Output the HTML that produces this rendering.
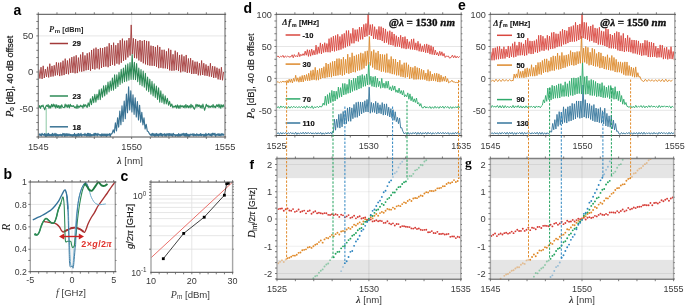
<!DOCTYPE html>
<html><head><meta charset="utf-8"><style>
html,body{margin:0;padding:0;background:#fff;width:685px;height:305px;overflow:hidden;}
svg{will-change:transform;display:block;font-family:"Liberation Sans",sans-serif;}
</style></head><body>
<svg xmlns="http://www.w3.org/2000/svg" width="685" height="305" viewBox="0 0 685 305"><line x1="38.3" y1="35.9" x2="225" y2="35.9" stroke="#e3e3e3" stroke-width="0.9"/>
<line x1="38.3" y1="72" x2="225" y2="72" stroke="#e3e3e3" stroke-width="0.9"/>
<line x1="38.3" y1="108.1" x2="225" y2="108.1" stroke="#e3e3e3" stroke-width="0.9"/>
<line x1="131.65" y1="14.3" x2="131.65" y2="137" stroke="#e3e3e3" stroke-width="0.9"/>
<line x1="46.2" y1="108.1" x2="46.2" y2="137" stroke="#7fc29a" stroke-width="0.9"/>
<path d="M38.8 135.33 L39.45 133.96 L40.1 135.52 L40.75 134.05 L41.4 135.88 L42.05 133.29 L42.7 135.02 L43.35 134.37 L44 135.36 L44.65 133.53 L45.3 136.39 L45.95 133.86 L46.6 136.17 L47.25 133.87 L47.9 135.89 L48.55 133.41 L49.2 135.89 L49.85 134.42 L50.5 135.73 L51.15 134.24 L51.8 135.94 L52.45 133.29 L53.1 136.06 L53.75 134.03 L54.4 135.42 L55.05 133.24 L55.7 136.21 L56.35 133.86 L57 136.01 L57.65 134.43 L58.3 136 L58.95 134.49 L59.6 135.55 L60.25 134.32 L60.9 135.62 L61.55 134.51 L62.2 136.23 L62.85 133.34 L63.5 135.19 L64.15 133.5 L64.8 136.35 L65.45 133.81 L66.1 135.88 L66.75 133.62 L67.4 135.71 L68.05 133.74 L68.7 135.49 L69.35 134.02 L70 135.82 L70.65 134.47 L71.3 135.95 L71.95 134.5 L72.6 136.2 L73.25 134.59 L73.9 135.94 L74.55 133.43 L75.2 136.2 L75.85 134.55 L76.5 136.27 L77.15 134 L77.8 136 L78.45 133.5 L79.1 136.16 L79.75 134 L80.4 135.4 L81.05 133.29 L81.7 136.2 L82.35 134.59 L83 135.12 L83.65 134.32 L84.3 135.57 L84.95 133.41 L85.6 135.41 L86.25 134.28 L86.9 136.22 L87.55 133.26 L88.2 135.86 L88.85 133.26 L89.5 136.01 L90.15 133.66 L90.8 136.23 L91.45 134.57 L92.1 135.71 L92.75 134.6 L93.4 135.43 L94.05 133.31 L94.7 135.84 L95.35 133.24 L96 135.28 L96.65 133.77 L97.3 135.85 L97.95 133.42 L98.6 135.06 L99.25 134.41 L99.9 135.44 L100.55 134.54 L101.2 136.26 L101.85 133.73 L102.5 135.64 L103.15 133.93 L103.8 135.9 L104.45 134.03 L105.1 135.78 L105.75 134.07 L106.4 136.32 L107.05 133.91 L107.7 135.6 L108.35 134.21 L109 135.33 L109.65 133.62 L110.3 136.37 L110.95 133.93 L111 134.27 L112.1 133.45 L113.2 129.82 L114.3 132.82 L115.4 122.74 L116.5 131 L117.6 117.8 L118.7 127.08 L119.8 111 L120.9 124.69 L122 105.94 L123.1 121.42 L124.2 100.96 L125.3 118.71 L126.4 94.14 L127.5 112.74 L128.6 86.9 L129.7 109.99 L130.8 90.78 L131.9 111.86 L133 94.78 L134.1 114.33 L135.2 97.86 L136.3 116.88 L137.4 101.65 L138.5 119.9 L139.6 105.22 L140.7 122.28 L141.8 112.36 L142.9 124.8 L144 117.91 L145.1 129.01 L146.2 124.33 L147.3 131.05 L148.4 131.65 L149.5 133.93 L150.65 135.26 L151.3 133.81 L151.95 135.98 L152.6 133.34 L153.25 135.45 L153.9 133.67 L154.55 136.17 L155.2 133.81 L155.85 136.2 L156.5 133.44 L157.15 135.47 L157.8 134.11 L158.45 136.24 L159.1 133.83 L159.75 135.32 L160.4 133.37 L161.05 135.74 L161.7 133.47 L162.35 136.13 L163 134.37 L163.65 135.26 L164.3 133.59 L164.95 136.13 L165.6 134.1 L166.25 136.13 L166.9 133.68 L167.55 135.18 L168.2 133.61 L168.85 136.11 L169.5 133.58 L170.15 135.48 L170.8 133.78 L171.45 135.59 L172.1 133.77 L172.75 136.29 L173.4 133.42 L174.05 135.01 L174.7 134.52 L175.35 136.23 L176 134.58 L176.65 135.61 L177.3 134.53 L177.95 136.3 L178.6 133.51 L179.25 136.04 L179.9 134.37 L180.55 135.93 L181.2 133.93 L181.85 135.4 L182.5 133.68 L183.15 135.32 L183.8 133.3 L184.45 135.82 L185.1 133.6 L185.75 136.13 L186.4 133.26 L187.05 136.27 L187.7 134.17 L188.35 136.29 L189 134.46 L189.65 136.26 L190.3 134.01 L190.95 135.02 L191.6 134.24 L192.25 135.24 L192.9 133.62 L193.55 135.93 L194.2 133.93 L194.85 135.58 L195.5 134.51 L196.15 135.86 L196.8 133.68 L197.45 135.35 L198.1 134.41 L198.75 135.67 L199.4 134.3 L200.05 135.49 L200.7 133.48 L201.35 135.75 L202 134.34 L202.65 135.24 L203.3 134.31 L203.95 136.29 L204.6 134.33 L205.25 136.15 L205.9 133.21 L206.55 135.88 L207.2 134.41 L207.85 135.07 L208.5 133.58 L209.15 135.38 L209.8 133.94 L210.45 135.59 L211.1 133.86 L211.75 136.09 L212.4 133.2 L213.05 135.08 L213.7 133.38 L214.35 135.17 L215 133.3 L215.65 136.36 L216.3 134.4 L216.95 135.12 L217.6 133.9 L218.25 135.44 L218.9 133.64 L219.55 135.49 L220.2 134.11 L220.85 135.82 L221.5 133.71 L222.15 135.27 L222.8 133.66 L223.45 135.17 L224.1 133.98" fill="none" stroke="#3a7394" stroke-width="1.15" stroke-linejoin="round"/>
<path d="M38.8 107.75 L39.65 105.58 L40.5 108.38 L41.35 105.58 L42.2 106.56 L43.05 105.03 L43.9 107.8 L44.75 109.78 L45.6 106.99 L46.45 105.19 L47.3 106.53 L48.15 104.53 L49 108.33 L49.85 105.63 L50.7 108.09 L51.55 104.38 L52.4 106.75 L53.25 104.1 L54.1 106.92 L54.95 104.53 L55.8 108.24 L56.65 104.68 L57.5 107.58 L58.35 105.46 L59.2 108.38 L60.05 105.48 L60.9 108.29 L61.75 104.7 L62.6 106.83 L63.45 107.6 L64.3 107.71 L65.15 104.11 L66 107.18 L66.85 104.72 L67.7 107.46 L68.55 104.73 L69.4 107.91 L70.25 104.21 L71.1 106.55 L71.95 105.6 L72.8 106.54 L73.65 105.68 L74.5 107.66 L75.35 106.84 L76.2 108.41 L77.05 104.49 L77.9 108.36 L78.75 105.98 L79.6 107.21 L80.45 105.15 L81.3 106.72 L82.15 105.6 L83 108.22 L83.85 104.17 L84.7 106.68 L85.55 104.78 L86 105.1 L87.1 107.56 L88.2 102.84 L89.3 106.51 L90.4 98.89 L91.5 104.66 L92.6 96.41 L93.7 102.74 L94.8 94.2 L95.9 102.19 L97 94.18 L98.1 99.81 L99.2 89.66 L100.3 99.6 L101.4 88.73 L102.5 97.13 L103.6 85.85 L104.7 95.9 L105.8 85.18 L106.9 94.14 L108 82.03 L109.1 91.97 L110.2 81.12 L111.3 90.4 L112.4 77.92 L113.5 90.15 L114.6 74.87 L115.7 88.45 L116.8 74.78 L117.9 86.75 L119 72.23 L120.1 84.38 L121.2 69.21 L122.3 82.91 L123.4 68.09 L124.5 81.61 L125.6 64.97 L126.7 81.21 L127.8 63.83 L128.9 80.26 L130 62.63 L131.1 79.48 L132.2 54.5 L133.3 79.47 L134.4 62.23 L135.5 79.8 L136.6 63.56 L137.7 81.73 L138.8 68 L139.9 84.65 L141 69.43 L142.1 85.89 L143.2 71.04 L144.3 87.21 L145.4 73.2 L146.5 90.3 L147.6 77.02 L148.7 91.61 L149.8 79.15 L150.9 94.25 L152 81.26 L153.1 96.05 L154.2 83.75 L155.3 97.55 L156.4 85.95 L157.5 99.4 L158.6 87.73 L159.7 102.16 L160.8 90.7 L161.9 102.48 L163 94.01 L164.1 104 L165.2 95.77 L166.3 103.92 L167.4 98.35 L168.5 105.24 L169.6 101.34 L170.7 106.53 L171.8 103.94 L172.9 107.76 L174 106 L174.85 107.2 L175.7 105.39 L176.55 108.16 L177.4 104.8 L178.25 108.24 L179.1 105.48 L179.95 108.41 L180.8 105.14 L181.65 106.83 L182.5 105.77 L183.35 107.45 L184.2 105.48 L185.05 107.96 L185.9 104.44 L186.75 107.66 L187.6 105.43 L188.45 107.75 L189.3 105.65 L190.15 107.94 L191 104.16 L191.85 107.38 L192.7 105.4 L193.55 107.87 L194.4 109.25 L195.25 106.95 L196.1 104.21 L196.95 107.13 L197.8 104.46 L198.65 106.57 L199.5 105.03 L200.35 107.72 L201.2 105.28 L202.05 108.31 L202.9 104.1 L203.75 107.06 L204.6 110.25 L205.45 107.25 L206.3 104.17 L207.15 106.69 L208 105.19 L208.85 107.66 L209.7 106.02 L210.55 107.34 L211.4 105.73 L212.25 107.24 L213.1 104.38 L213.95 107.63 L214.8 106.01 L215.65 107.72 L216.5 104.8 L217.35 106.5 L218.2 104.32 L219.05 107.73 L219.9 104.38 L220.75 108.28 L221.6 104.85 L222.45 106.95 L223.3 104.68 L224.15 107.26" fill="none" stroke="#2e8b57" stroke-width="1.05" stroke-linejoin="round"/>
<path d="M38.8 69.41 L39.9 78.53 L41 67.19 L42.1 78.95 L43.2 65.84 L44.3 78 L45.4 69.09 L46.5 76.95 L47.6 66.78 L48.7 77.44 L49.8 63.71 L50.9 76.69 L52 65.93 L53.1 76.44 L54.2 65.27 L55.3 75.6 L56.4 62.32 L57.5 75.15 L58.6 62.76 L59.7 76.09 L60.8 62.38 L61.9 75.48 L63 60.69 L64.1 75.06 L65.2 58.66 L66.3 73.97 L67.4 60.48 L68.5 74.29 L69.6 58.58 L70.7 72.9 L71.8 57.12 L72.9 72.73 L74 56.43 L75.1 73.32 L76.2 55.3 L77.3 73.07 L78.4 57.6 L79.5 71.37 L80.6 54.59 L81.7 71.69 L82.8 52.23 L83.9 71.2 L85 55.44 L86.1 70.31 L87.2 53.29 L88.3 69.94 L89.4 52.44 L90.5 70.79 L91.6 49.99 L92.7 68.99 L93.8 48.7 L94.9 69.46 L96 47.64 L97.1 68.34 L98.2 49.03 L99.3 69.3 L100.4 47.93 L101.5 67.96 L102.6 48.15 L103.7 66.92 L104.8 47.13 L105.9 66.5 L107 46.5 L108.1 67.21 L109.2 43.24 L110.3 66.01 L111.4 44.97 L112.5 64.81 L113.6 42.68 L114.7 65.62 L115.8 45.21 L116.9 63.67 L118 43.13 L119.1 64.45 L120.2 40.26 L121.3 62.78 L122.4 38.63 L123.5 60.88 L124.6 40.71 L125.7 59.73 L126.8 40.4 L127.9 57.41 L129 38.06 L130.1 55.58 L131.2 24.9 L132.3 54.06 L133.4 38.31 L134.5 58.06 L135.6 39.12 L136.7 58.4 L137.8 40.92 L138.9 60.41 L140 40.05 L141.1 61.74 L142.2 40.89 L143.3 63.29 L144.4 40.07 L145.5 64.33 L146.6 40.92 L147.7 65.13 L148.8 41.35 L149.9 65.67 L151 45.66 L152.1 65.77 L153.2 46 L154.3 65.92 L155.4 46.91 L156.5 66.76 L157.6 45.41 L158.7 68.17 L159.8 46.96 L160.9 67.77 L162 49.81 L163.1 68.31 L164.2 49.73 L165.3 68.38 L166.4 51.31 L167.5 68.9 L168.6 48.52 L169.7 70.43 L170.8 49.86 L171.9 70.77 L173 54.3 L174.1 70.61 L175.2 50.7 L176.3 70.12 L177.4 52.37 L178.5 71.03 L179.6 54.97 L180.7 72.34 L181.8 54.59 L182.9 71.41 L184 56.31 L185.1 71.82 L186.2 54.96 L187.3 72.9 L188.4 58.48 L189.5 72.53 L190.6 58.17 L191.7 73.97 L192.8 60.36 L193.9 73.87 L195 61.69 L196.1 73.95 L197.2 61.71 L198.3 75.33 L199.4 63.23 L200.5 75.3 L201.6 60.5 L202.7 75 L203.8 63.22 L204.9 75.62 L206 64.46 L207.1 75.89 L208.2 65.92 L209.3 76.53 L210.4 63.25 L211.5 76.87 L212.6 66.03 L213.7 77.9 L214.8 66.51 L215.9 77.7 L217 67.71 L218.1 79.35 L219.2 68.74 L220.3 79.76 L221.4 67.24 L222.5 80.26 L223.6 71.89" fill="none" stroke="#a33a3a" stroke-width="0.9" stroke-linejoin="round"/>
<line x1="38.3" y1="14.3" x2="38.3" y2="137" stroke="#7a7a7a" stroke-width="1.2"/>
<line x1="225" y1="14.3" x2="225" y2="137" stroke="#7a7a7a" stroke-width="1.2"/>
<line x1="37.6" y1="14.3" x2="225.7" y2="14.3" stroke="#4d4d4d" stroke-width="1"/>
<line x1="37.6" y1="137" x2="225.7" y2="137" stroke="#4d4d4d" stroke-width="1"/>
<line x1="38.3" y1="12.3" x2="38.3" y2="14.3" stroke="#5a5a5a" stroke-width="0.8"/>
<line x1="38.3" y1="137" x2="38.3" y2="139" stroke="#5a5a5a" stroke-width="0.8"/>
<line x1="56.97" y1="12.3" x2="56.97" y2="14.3" stroke="#5a5a5a" stroke-width="0.8"/>
<line x1="56.97" y1="137" x2="56.97" y2="139" stroke="#5a5a5a" stroke-width="0.8"/>
<line x1="75.64" y1="12.3" x2="75.64" y2="14.3" stroke="#5a5a5a" stroke-width="0.8"/>
<line x1="75.64" y1="137" x2="75.64" y2="139" stroke="#5a5a5a" stroke-width="0.8"/>
<line x1="94.31" y1="12.3" x2="94.31" y2="14.3" stroke="#5a5a5a" stroke-width="0.8"/>
<line x1="94.31" y1="137" x2="94.31" y2="139" stroke="#5a5a5a" stroke-width="0.8"/>
<line x1="112.98" y1="12.3" x2="112.98" y2="14.3" stroke="#5a5a5a" stroke-width="0.8"/>
<line x1="112.98" y1="137" x2="112.98" y2="139" stroke="#5a5a5a" stroke-width="0.8"/>
<line x1="131.65" y1="12.3" x2="131.65" y2="14.3" stroke="#5a5a5a" stroke-width="0.8"/>
<line x1="131.65" y1="137" x2="131.65" y2="139" stroke="#5a5a5a" stroke-width="0.8"/>
<line x1="150.32" y1="12.3" x2="150.32" y2="14.3" stroke="#5a5a5a" stroke-width="0.8"/>
<line x1="150.32" y1="137" x2="150.32" y2="139" stroke="#5a5a5a" stroke-width="0.8"/>
<line x1="168.99" y1="12.3" x2="168.99" y2="14.3" stroke="#5a5a5a" stroke-width="0.8"/>
<line x1="168.99" y1="137" x2="168.99" y2="139" stroke="#5a5a5a" stroke-width="0.8"/>
<line x1="187.66" y1="12.3" x2="187.66" y2="14.3" stroke="#5a5a5a" stroke-width="0.8"/>
<line x1="187.66" y1="137" x2="187.66" y2="139" stroke="#5a5a5a" stroke-width="0.8"/>
<line x1="206.33" y1="12.3" x2="206.33" y2="14.3" stroke="#5a5a5a" stroke-width="0.8"/>
<line x1="206.33" y1="137" x2="206.33" y2="139" stroke="#5a5a5a" stroke-width="0.8"/>
<line x1="225" y1="12.3" x2="225" y2="14.3" stroke="#5a5a5a" stroke-width="0.8"/>
<line x1="225" y1="137" x2="225" y2="139" stroke="#5a5a5a" stroke-width="0.8"/>
<line x1="36.3" y1="136.98" x2="38.3" y2="136.98" stroke="#5a5a5a" stroke-width="0.8"/>
<line x1="225" y1="136.98" x2="226.2" y2="136.98" stroke="#5a5a5a" stroke-width="0.8"/>
<line x1="36.3" y1="129.76" x2="38.3" y2="129.76" stroke="#5a5a5a" stroke-width="0.8"/>
<line x1="225" y1="129.76" x2="226.2" y2="129.76" stroke="#5a5a5a" stroke-width="0.8"/>
<line x1="36.3" y1="122.54" x2="38.3" y2="122.54" stroke="#5a5a5a" stroke-width="0.8"/>
<line x1="225" y1="122.54" x2="226.2" y2="122.54" stroke="#5a5a5a" stroke-width="0.8"/>
<line x1="36.3" y1="115.32" x2="38.3" y2="115.32" stroke="#5a5a5a" stroke-width="0.8"/>
<line x1="225" y1="115.32" x2="226.2" y2="115.32" stroke="#5a5a5a" stroke-width="0.8"/>
<line x1="36.3" y1="108.1" x2="38.3" y2="108.1" stroke="#5a5a5a" stroke-width="0.8"/>
<line x1="225" y1="108.1" x2="226.2" y2="108.1" stroke="#5a5a5a" stroke-width="0.8"/>
<line x1="36.3" y1="100.88" x2="38.3" y2="100.88" stroke="#5a5a5a" stroke-width="0.8"/>
<line x1="225" y1="100.88" x2="226.2" y2="100.88" stroke="#5a5a5a" stroke-width="0.8"/>
<line x1="36.3" y1="93.66" x2="38.3" y2="93.66" stroke="#5a5a5a" stroke-width="0.8"/>
<line x1="225" y1="93.66" x2="226.2" y2="93.66" stroke="#5a5a5a" stroke-width="0.8"/>
<line x1="36.3" y1="86.44" x2="38.3" y2="86.44" stroke="#5a5a5a" stroke-width="0.8"/>
<line x1="225" y1="86.44" x2="226.2" y2="86.44" stroke="#5a5a5a" stroke-width="0.8"/>
<line x1="36.3" y1="79.22" x2="38.3" y2="79.22" stroke="#5a5a5a" stroke-width="0.8"/>
<line x1="225" y1="79.22" x2="226.2" y2="79.22" stroke="#5a5a5a" stroke-width="0.8"/>
<line x1="36.3" y1="72" x2="38.3" y2="72" stroke="#5a5a5a" stroke-width="0.8"/>
<line x1="225" y1="72" x2="226.2" y2="72" stroke="#5a5a5a" stroke-width="0.8"/>
<line x1="36.3" y1="64.78" x2="38.3" y2="64.78" stroke="#5a5a5a" stroke-width="0.8"/>
<line x1="225" y1="64.78" x2="226.2" y2="64.78" stroke="#5a5a5a" stroke-width="0.8"/>
<line x1="36.3" y1="57.56" x2="38.3" y2="57.56" stroke="#5a5a5a" stroke-width="0.8"/>
<line x1="225" y1="57.56" x2="226.2" y2="57.56" stroke="#5a5a5a" stroke-width="0.8"/>
<line x1="36.3" y1="50.34" x2="38.3" y2="50.34" stroke="#5a5a5a" stroke-width="0.8"/>
<line x1="225" y1="50.34" x2="226.2" y2="50.34" stroke="#5a5a5a" stroke-width="0.8"/>
<line x1="36.3" y1="43.12" x2="38.3" y2="43.12" stroke="#5a5a5a" stroke-width="0.8"/>
<line x1="225" y1="43.12" x2="226.2" y2="43.12" stroke="#5a5a5a" stroke-width="0.8"/>
<line x1="36.3" y1="35.9" x2="38.3" y2="35.9" stroke="#5a5a5a" stroke-width="0.8"/>
<line x1="225" y1="35.9" x2="226.2" y2="35.9" stroke="#5a5a5a" stroke-width="0.8"/>
<line x1="36.3" y1="28.68" x2="38.3" y2="28.68" stroke="#5a5a5a" stroke-width="0.8"/>
<line x1="225" y1="28.68" x2="226.2" y2="28.68" stroke="#5a5a5a" stroke-width="0.8"/>
<line x1="36.3" y1="21.46" x2="38.3" y2="21.46" stroke="#5a5a5a" stroke-width="0.8"/>
<line x1="225" y1="21.46" x2="226.2" y2="21.46" stroke="#5a5a5a" stroke-width="0.8"/>
<line x1="36.3" y1="14.24" x2="38.3" y2="14.24" stroke="#5a5a5a" stroke-width="0.8"/>
<line x1="225" y1="14.24" x2="226.2" y2="14.24" stroke="#5a5a5a" stroke-width="0.8"/>
<text x="33.3" y="39.3" font-size="9.6" font-family="Liberation Sans" fill="#3a3a3a" text-anchor="end">50</text>
<text x="33.3" y="75.4" font-size="9.6" font-family="Liberation Sans" fill="#3a3a3a" text-anchor="end">0</text>
<text x="33.3" y="111.5" font-size="9.6" font-family="Liberation Sans" fill="#3a3a3a" text-anchor="end">-50</text>
<text x="38.3" y="150.4" font-size="9.3" font-family="Liberation Sans" fill="#3a3a3a" text-anchor="middle">1545</text>
<text x="131.65" y="150.4" font-size="9.3" font-family="Liberation Sans" fill="#3a3a3a" text-anchor="middle">1550</text>
<text x="225" y="150.4" font-size="9.3" font-family="Liberation Sans" fill="#3a3a3a" text-anchor="middle">1555</text>
<text x="130" y="164.3" font-size="9.6" font-family="Liberation Sans" fill="#3a3a3a" text-anchor="middle"><tspan font-style="italic" font-weight="bold" font-family="Liberation Serif" font-size="10.5">λ</tspan> [nm]</text>
<text x="12.9" y="76.4" font-size="9" font-family="Liberation Sans" fill="#1a1a1a" text-anchor="middle" transform="rotate(-90 12.9 76.4)" stroke="#1a1a1a" stroke-width="0.25"><tspan font-style="italic" font-family="Liberation Serif" font-size="10.5">P</tspan><tspan font-size="6.3" dy="1.5">o</tspan><tspan dy="-1.5"> [dB], 40 dB offset</tspan></text>
<text x="48.9" y="31.6" font-size="8" font-family="Liberation Sans" fill="#2a2a2a"><tspan font-family="Liberation Serif" font-style="italic" font-weight="bold" font-size="8.4">P</tspan><tspan font-size="6" dy="1.3" font-weight="bold" dx="0.6">m</tspan><tspan dy="-1.3" font-size="7.3" font-weight="bold" dx="0.3"> [dBm]</tspan></text>
<line x1="49.8" y1="43.5" x2="68" y2="43.5" stroke="#a33a3a" stroke-width="1.5"/>
<text x="72.6" y="46.2" font-size="7.5" font-family="Liberation Sans" fill="#111" font-weight="bold" stroke="#111" stroke-width="0.2">29</text>
<line x1="49.8" y1="96" x2="68" y2="96" stroke="#2e8b57" stroke-width="1.5"/>
<text x="72.6" y="98.7" font-size="7.5" font-family="Liberation Sans" fill="#111" font-weight="bold" stroke="#111" stroke-width="0.2">23</text>
<line x1="49.8" y1="126.8" x2="68" y2="126.8" stroke="#3a7394" stroke-width="1.5"/>
<text x="72.6" y="129.5" font-size="7.5" font-family="Liberation Sans" fill="#111" font-weight="bold" stroke="#111" stroke-width="0.2">18</text>
<text x="13.5" y="15" font-size="14" font-family="Liberation Sans" fill="#000" font-weight="bold">a</text>
<line x1="30.3" y1="204.42" x2="115.3" y2="204.42" stroke="#e3e3e3" stroke-width="0.9"/>
<line x1="30.3" y1="226.84" x2="115.3" y2="226.84" stroke="#e3e3e3" stroke-width="0.9"/>
<line x1="30.3" y1="249.26" x2="115.3" y2="249.26" stroke="#e3e3e3" stroke-width="0.9"/>
<line x1="72" y1="182" x2="72" y2="271.7" stroke="#e3e3e3" stroke-width="0.9"/>
<path d="M44.3 221.3 C44.43 221.38 44.53 221.67 45.1 221.8 C45.67 221.93 46.72 221.92 47.7 222.1 C48.68 222.28 49.9 222.73 51 222.9 C52.1 223.07 53.32 222.85 54.3 223.1 C55.28 223.35 56.03 223.75 56.9 224.4 C57.77 225.05 58.73 225.98 59.5 227 C60.27 228.02 60.88 229.67 61.5 230.5 C62.12 231.33 62.55 231.92 63.2 232 C63.85 232.08 64.38 231.5 65.4 231 C66.42 230.5 68.2 229.5 69.3 229 C70.4 228.5 71.08 228.23 72 228 C72.92 227.77 73.8 227.55 74.8 227.6 C75.8 227.65 76.97 227.93 78 228.3 C79.03 228.67 80.17 229.28 81 229.8 C81.83 230.32 82.4 230.98 83 231.4 C83.6 231.82 84.07 232.7 84.6 232.3 C85.13 231.9 85.63 230.38 86.2 229 C86.77 227.62 87.2 225.83 88 224 C88.8 222.17 89.9 219.93 91 218 C92.1 216.07 93.43 214.4 94.6 212.4 C95.77 210.4 96.63 208.18 98 206 C99.37 203.82 101.3 201.38 102.8 199.3 C104.3 197.22 105.5 195.65 107 193.5 C108.5 191.35 110.47 188.28 111.8 186.4 C113.13 184.52 114.47 182.9 115 182.2" fill="none" stroke="#a83232" stroke-width="1.35" stroke-linejoin="round" stroke-linecap="round"/>
<path d="M64.5 231.4 C65.3 231 68.05 229.57 69.3 229 C70.55 228.43 71.08 228.23 72 228 C72.92 227.77 73.8 227.55 74.8 227.6 C75.8 227.65 76.97 227.93 78 228.3 C79.03 228.67 80.17 229.32 81 229.8 C81.83 230.28 82.67 230.97 83 231.2" fill="none" stroke="#a83232" stroke-width="1.9" stroke-linejoin="round" stroke-linecap="round"/>
<path d="M66.2 192 C66.42 193.17 67.13 195.67 67.5 199 C67.87 202.33 68.15 206.83 68.4 212 C68.65 217.17 68.77 223.67 69 230 C69.23 236.33 69.53 244.33 69.8 250 C70.07 255.67 70.3 261.25 70.6 264 C70.9 266.75 71.23 266.25 71.6 266.5 C71.97 266.75 72.47 266.92 72.8 265.5 C73.13 264.08 73.35 261.42 73.6 258 C73.85 254.58 74.03 249.67 74.3 245 C74.57 240.33 74.83 235 75.2 230 C75.57 225 75.95 220 76.5 215 C77.05 210 77.75 204.17 78.5 200 C79.25 195.83 80.17 192.5 81 190 C81.83 187.5 82.73 186.17 83.5 185 C84.27 183.83 84.9 182.85 85.6 183 C86.3 183.15 87.1 184.73 87.7 185.9 C88.3 187.07 88.7 188.37 89.2 190 C89.7 191.63 90.15 194.12 90.7 195.7 C91.25 197.28 91.85 198.35 92.5 199.5 C93.15 200.65 93.85 201.82 94.6 202.6 C95.35 203.38 96.18 203.85 97 204.2 C97.82 204.55 98.58 204.67 99.5 204.7 C100.42 204.73 101.52 204.52 102.5 204.4 C103.48 204.28 104.92 204.07 105.4 204" fill="none" stroke="#6fa9c9" stroke-width="1" stroke-linejoin="round" stroke-linecap="round"/>
<path d="M35.2 234.3 C35.53 234.4 36.53 235.23 37.2 234.9 C37.87 234.57 38.55 233.72 39.2 232.3 C39.85 230.88 40.45 228.15 41.1 226.4 C41.75 224.65 42.3 223.12 43.1 221.8 C43.9 220.48 44.98 218.75 45.9 218.5 C46.82 218.25 47.6 219.53 48.6 220.3 C49.6 221.07 50.95 222.73 51.9 223.1 C52.85 223.47 53.58 223.37 54.3 222.5 C55.02 221.63 55.55 219.98 56.2 217.9 C56.85 215.82 57.43 212.42 58.2 210 C58.97 207.58 60.08 205.48 60.8 203.4 C61.52 201.32 62.07 198.38 62.5 197.5 C62.93 196.62 63.12 196.68 63.4 198.1 C63.68 199.52 63.97 201.63 64.2 206 C64.43 210.37 64.6 218.53 64.8 224.3 C65 230.07 64.95 237.77 65.4 240.6 C65.85 243.43 66.62 241.17 67.5 241.3 C68.38 241.43 70.03 240.83 70.7 241.4 C71.37 241.97 71.2 243.68 71.5 244.7 C71.8 245.72 72.17 247.12 72.5 247.5 C72.83 247.88 73.18 247.33 73.5 247 C73.82 246.67 74.08 247 74.4 245.5 C74.72 244 75.07 240.32 75.4 238 C75.73 235.68 76.05 234.6 76.4 231.6 C76.75 228.6 76.98 224.43 77.5 220 C78.02 215.57 78.75 209.67 79.5 205 C80.25 200.33 81.25 195.17 82 192 C82.75 188.83 83.45 187.35 84 186 C84.55 184.65 85.08 184.25 85.3 183.9" fill="none" stroke="#2e8b57" stroke-width="1.1" stroke-linejoin="round" stroke-linecap="round"/>
<path d="M35.2 234.3 C35.53 234.4 36.53 235.23 37.2 234.9 C37.87 234.57 38.55 233.72 39.2 232.3 C39.85 230.88 40.45 228.15 41.1 226.4 C41.75 224.65 42.3 223.12 43.1 221.8 C43.9 220.48 44.98 218.75 45.9 218.5 C46.82 218.25 47.6 219.53 48.6 220.3 C49.6 221.07 50.95 222.73 51.9 223.1 C52.85 223.47 53.58 223.37 54.3 222.5 C55.02 221.63 55.55 219.98 56.2 217.9 C56.85 215.82 57.43 212.42 58.2 210 C58.97 207.58 60.37 204.5 60.8 203.4" fill="none" stroke="#2e8b57" stroke-width="1.5" stroke-linejoin="round" stroke-linecap="round"/>
<circle cx="35.3" cy="234.4" r="1.2" fill="#2e8b57"/>
<path d="M84.5 184.5 C84.63 184.4 84.8 183.48 85.3 183.9 C85.8 184.32 86.85 186.02 87.5 187 C88.15 187.98 88.5 189.17 89.2 189.8 C89.9 190.43 90.98 190.93 91.7 190.8 C92.42 190.67 92.85 189.82 93.5 189 C94.15 188.18 94.77 187 95.6 185.9 C96.43 184.8 97.52 182.48 98.5 182.4 C99.48 182.32 100.52 184.82 101.5 185.4 C102.48 185.98 103.5 186.07 104.4 185.9 C105.3 185.73 106.48 184.65 106.9 184.4" fill="none" stroke="#1f7a40" stroke-width="1.9" stroke-linejoin="round" stroke-linecap="round"/>
<path d="M33.3 219.7 C33.67 219.52 34.73 219 35.5 218.6 C36.27 218.2 37.07 217.68 37.9 217.3 C38.73 216.92 39.63 216.7 40.5 216.3 C41.37 215.9 42.02 215.52 43.1 214.9 C44.18 214.28 45.68 213.42 47 212.6 C48.32 211.78 49.68 211.1 51 210 C52.32 208.9 53.58 207.55 54.9 206 C56.22 204.45 57.7 202.67 58.9 200.7 C60.1 198.73 61.18 195.95 62.1 194.2 C63.02 192.45 63.8 190.75 64.4 190.2 C65 189.65 65.27 189.8 65.7 190.9 C66.13 192 66.65 193.85 67 196.8 C67.35 199.75 67.67 206.63 67.8 208.6" fill="none" stroke="#33729a" stroke-width="1.35" stroke-linejoin="round" stroke-linecap="round"/>
<path d="M67 196.8 C67.13 198.77 67.57 203.9 67.8 208.6 C68.03 213.3 68.2 218.93 68.4 225 C68.6 231.07 68.82 238.83 69 245 C69.18 251.17 69.3 258.37 69.5 262 C69.7 265.63 69.73 266.13 70.2 266.8 C70.67 267.47 71.82 265.77 72.3 266 C72.78 266.23 72.83 268.75 73.1 268.2 C73.37 267.65 73.58 265.73 73.9 262.7 C74.22 259.67 74.72 253 75 250 C75.28 247 75.37 248.87 75.6 244.7 C75.83 240.53 76.1 230.78 76.4 225 C76.7 219.22 76.97 214.5 77.4 210 C77.83 205.5 78.32 201.5 79 198 C79.68 194.5 80.67 191.33 81.5 189 C82.33 186.67 83.28 185.1 84 184 C84.72 182.9 85.3 182.4 85.8 182.4 C86.3 182.4 86.63 183.32 87 184 C87.37 184.68 87.83 186.08 88 186.5" fill="none" stroke="#3a78a0" stroke-width="0.95" stroke-linejoin="round" stroke-linecap="round"/>
<line x1="62.5" y1="236.5" x2="80.5" y2="236.5" stroke="#cc2222" stroke-width="1.4"/>
<path d="M59 236.5 L64.2 233.6 L64.2 239.4 Z" fill="#cc2222"/>
<path d="M84 236.5 L78.8 233.6 L78.8 239.4 Z" fill="#cc2222"/>
<text x="81.3" y="246.6" font-size="9" font-family="Liberation Sans" fill="#e0302a" font-weight="bold" letter-spacing="0.35">2×<tspan font-style="italic">g</tspan>/2<tspan font-family="Liberation Serif" font-style="italic" font-size="10">π</tspan></text>
<line x1="30.3" y1="182" x2="30.3" y2="271.7" stroke="#a6a6a6" stroke-width="1.4"/>
<line x1="115.3" y1="182" x2="115.3" y2="271.7" stroke="#a6a6a6" stroke-width="1.4"/>
<line x1="29.6" y1="182" x2="116" y2="182" stroke="#4d4d4d" stroke-width="1"/>
<line x1="29.6" y1="271.7" x2="116" y2="271.7" stroke="#4d4d4d" stroke-width="1"/>
<line x1="30.3" y1="180" x2="30.3" y2="182" stroke="#5a5a5a" stroke-width="0.8"/>
<line x1="30.3" y1="271.7" x2="30.3" y2="273.7" stroke="#5a5a5a" stroke-width="0.8"/>
<line x1="38.64" y1="180" x2="38.64" y2="182" stroke="#5a5a5a" stroke-width="0.8"/>
<line x1="38.64" y1="271.7" x2="38.64" y2="273.7" stroke="#5a5a5a" stroke-width="0.8"/>
<line x1="46.98" y1="180" x2="46.98" y2="182" stroke="#5a5a5a" stroke-width="0.8"/>
<line x1="46.98" y1="271.7" x2="46.98" y2="273.7" stroke="#5a5a5a" stroke-width="0.8"/>
<line x1="55.32" y1="180" x2="55.32" y2="182" stroke="#5a5a5a" stroke-width="0.8"/>
<line x1="55.32" y1="271.7" x2="55.32" y2="273.7" stroke="#5a5a5a" stroke-width="0.8"/>
<line x1="63.66" y1="180" x2="63.66" y2="182" stroke="#5a5a5a" stroke-width="0.8"/>
<line x1="63.66" y1="271.7" x2="63.66" y2="273.7" stroke="#5a5a5a" stroke-width="0.8"/>
<line x1="72" y1="180" x2="72" y2="182" stroke="#5a5a5a" stroke-width="0.8"/>
<line x1="72" y1="271.7" x2="72" y2="273.7" stroke="#5a5a5a" stroke-width="0.8"/>
<line x1="80.34" y1="180" x2="80.34" y2="182" stroke="#5a5a5a" stroke-width="0.8"/>
<line x1="80.34" y1="271.7" x2="80.34" y2="273.7" stroke="#5a5a5a" stroke-width="0.8"/>
<line x1="88.68" y1="180" x2="88.68" y2="182" stroke="#5a5a5a" stroke-width="0.8"/>
<line x1="88.68" y1="271.7" x2="88.68" y2="273.7" stroke="#5a5a5a" stroke-width="0.8"/>
<line x1="97.02" y1="180" x2="97.02" y2="182" stroke="#5a5a5a" stroke-width="0.8"/>
<line x1="97.02" y1="271.7" x2="97.02" y2="273.7" stroke="#5a5a5a" stroke-width="0.8"/>
<line x1="105.36" y1="180" x2="105.36" y2="182" stroke="#5a5a5a" stroke-width="0.8"/>
<line x1="105.36" y1="271.7" x2="105.36" y2="273.7" stroke="#5a5a5a" stroke-width="0.8"/>
<line x1="113.7" y1="180" x2="113.7" y2="182" stroke="#5a5a5a" stroke-width="0.8"/>
<line x1="113.7" y1="271.7" x2="113.7" y2="273.7" stroke="#5a5a5a" stroke-width="0.8"/>
<line x1="28.3" y1="271.68" x2="30.3" y2="271.68" stroke="#5a5a5a" stroke-width="0.8"/>
<line x1="115.3" y1="271.68" x2="116.5" y2="271.68" stroke="#5a5a5a" stroke-width="0.8"/>
<line x1="28.3" y1="260.47" x2="30.3" y2="260.47" stroke="#5a5a5a" stroke-width="0.8"/>
<line x1="115.3" y1="260.47" x2="116.5" y2="260.47" stroke="#5a5a5a" stroke-width="0.8"/>
<line x1="28.3" y1="249.26" x2="30.3" y2="249.26" stroke="#5a5a5a" stroke-width="0.8"/>
<line x1="115.3" y1="249.26" x2="116.5" y2="249.26" stroke="#5a5a5a" stroke-width="0.8"/>
<line x1="28.3" y1="238.05" x2="30.3" y2="238.05" stroke="#5a5a5a" stroke-width="0.8"/>
<line x1="115.3" y1="238.05" x2="116.5" y2="238.05" stroke="#5a5a5a" stroke-width="0.8"/>
<line x1="28.3" y1="226.84" x2="30.3" y2="226.84" stroke="#5a5a5a" stroke-width="0.8"/>
<line x1="115.3" y1="226.84" x2="116.5" y2="226.84" stroke="#5a5a5a" stroke-width="0.8"/>
<line x1="28.3" y1="215.63" x2="30.3" y2="215.63" stroke="#5a5a5a" stroke-width="0.8"/>
<line x1="115.3" y1="215.63" x2="116.5" y2="215.63" stroke="#5a5a5a" stroke-width="0.8"/>
<line x1="28.3" y1="204.42" x2="30.3" y2="204.42" stroke="#5a5a5a" stroke-width="0.8"/>
<line x1="115.3" y1="204.42" x2="116.5" y2="204.42" stroke="#5a5a5a" stroke-width="0.8"/>
<line x1="28.3" y1="193.21" x2="30.3" y2="193.21" stroke="#5a5a5a" stroke-width="0.8"/>
<line x1="115.3" y1="193.21" x2="116.5" y2="193.21" stroke="#5a5a5a" stroke-width="0.8"/>
<line x1="28.3" y1="182" x2="30.3" y2="182" stroke="#5a5a5a" stroke-width="0.8"/>
<line x1="115.3" y1="182" x2="116.5" y2="182" stroke="#5a5a5a" stroke-width="0.8"/>
<text x="26.8" y="185.1" font-size="8.7" font-family="Liberation Sans" fill="#3a3a3a" text-anchor="end">1</text>
<text x="26.8" y="207.52" font-size="8.7" font-family="Liberation Sans" fill="#3a3a3a" text-anchor="end">0.8</text>
<text x="26.8" y="229.94" font-size="8.7" font-family="Liberation Sans" fill="#3a3a3a" text-anchor="end">0.6</text>
<text x="26.8" y="252.36" font-size="8.7" font-family="Liberation Sans" fill="#3a3a3a" text-anchor="end">0.4</text>
<text x="26.8" y="274.78" font-size="8.7" font-family="Liberation Sans" fill="#3a3a3a" text-anchor="end">0.2</text>
<text x="30.3" y="283.4" font-size="9" font-family="Liberation Sans" fill="#3a3a3a" text-anchor="middle">-5</text>
<text x="72" y="283.4" font-size="9" font-family="Liberation Sans" fill="#3a3a3a" text-anchor="middle">0</text>
<text x="113.7" y="283.4" font-size="9" font-family="Liberation Sans" fill="#3a3a3a" text-anchor="middle">5</text>
<text x="71" y="296" font-size="9.6" font-family="Liberation Sans" fill="#3a3a3a" text-anchor="middle"><tspan font-style="italic" font-family="Liberation Serif" font-size="10">f</tspan> [GHz]</text>
<text x="9.8" y="227.3" font-size="11.5" font-family="Liberation Sans" fill="#1a1a1a" text-anchor="middle" transform="rotate(-90 9.8 227.3)"><tspan font-style="italic" font-family="Liberation Serif">R</tspan></text>
<text x="3.6" y="179.3" font-size="14" font-family="Liberation Sans" fill="#000" font-weight="bold">b</text>
<line x1="151" y1="249.18" x2="232.6" y2="249.18" stroke="#e3e3e3" stroke-width="0.9"/>
<line x1="151" y1="235.66" x2="232.6" y2="235.66" stroke="#e3e3e3" stroke-width="0.9"/>
<line x1="151" y1="226.06" x2="232.6" y2="226.06" stroke="#e3e3e3" stroke-width="0.9"/>
<line x1="151" y1="218.62" x2="232.6" y2="218.62" stroke="#e3e3e3" stroke-width="0.9"/>
<line x1="151" y1="212.54" x2="232.6" y2="212.54" stroke="#e3e3e3" stroke-width="0.9"/>
<line x1="151" y1="207.4" x2="232.6" y2="207.4" stroke="#e3e3e3" stroke-width="0.9"/>
<line x1="151" y1="202.94" x2="232.6" y2="202.94" stroke="#e3e3e3" stroke-width="0.9"/>
<line x1="151" y1="199.01" x2="232.6" y2="199.01" stroke="#e3e3e3" stroke-width="0.9"/>
<line x1="151" y1="195.5" x2="232.6" y2="195.5" stroke="#e3e3e3" stroke-width="0.9"/>
<line x1="191.8" y1="182.1" x2="191.8" y2="272.3" stroke="#e3e3e3" stroke-width="0.9"/>
<line x1="151" y1="257.8" x2="232.6" y2="182.1" stroke="#e8605a" stroke-width="0.9"/>
<path d="M163.3 258.7 L183.7 233.4 L204.2 217.2 L224.4 195.2 L226.7 183.7 L228.3 183.3" fill="none" stroke="#111" stroke-width="0.8" stroke-linejoin="round"/>
<rect x="161.9" y="257.3" width="2.8" height="2.8" fill="#000"/>
<rect x="182.3" y="232" width="2.8" height="2.8" fill="#000"/>
<rect x="202.8" y="215.8" width="2.8" height="2.8" fill="#000"/>
<rect x="223" y="193.8" width="2.8" height="2.8" fill="#000"/>
<rect x="225.3" y="182.3" width="2.8" height="2.8" fill="#000"/>
<rect x="226.9" y="181.9" width="2.8" height="2.8" fill="#000"/>
<line x1="151" y1="182.1" x2="151" y2="272.3" stroke="#a6a6a6" stroke-width="1.4"/>
<line x1="232.6" y1="182.1" x2="232.6" y2="272.3" stroke="#a6a6a6" stroke-width="1.4"/>
<line x1="150.3" y1="182.1" x2="233.3" y2="182.1" stroke="#4d4d4d" stroke-width="1"/>
<line x1="150.3" y1="272.3" x2="233.3" y2="272.3" stroke="#4d4d4d" stroke-width="1"/>
<line x1="151" y1="180.1" x2="151" y2="182.1" stroke="#5a5a5a" stroke-width="0.8"/>
<line x1="151" y1="272.3" x2="151" y2="274.3" stroke="#5a5a5a" stroke-width="0.8"/>
<line x1="159.16" y1="180.1" x2="159.16" y2="182.1" stroke="#5a5a5a" stroke-width="0.8"/>
<line x1="159.16" y1="272.3" x2="159.16" y2="274.3" stroke="#5a5a5a" stroke-width="0.8"/>
<line x1="167.32" y1="180.1" x2="167.32" y2="182.1" stroke="#5a5a5a" stroke-width="0.8"/>
<line x1="167.32" y1="272.3" x2="167.32" y2="274.3" stroke="#5a5a5a" stroke-width="0.8"/>
<line x1="175.48" y1="180.1" x2="175.48" y2="182.1" stroke="#5a5a5a" stroke-width="0.8"/>
<line x1="175.48" y1="272.3" x2="175.48" y2="274.3" stroke="#5a5a5a" stroke-width="0.8"/>
<line x1="183.64" y1="180.1" x2="183.64" y2="182.1" stroke="#5a5a5a" stroke-width="0.8"/>
<line x1="183.64" y1="272.3" x2="183.64" y2="274.3" stroke="#5a5a5a" stroke-width="0.8"/>
<line x1="191.8" y1="180.1" x2="191.8" y2="182.1" stroke="#5a5a5a" stroke-width="0.8"/>
<line x1="191.8" y1="272.3" x2="191.8" y2="274.3" stroke="#5a5a5a" stroke-width="0.8"/>
<line x1="199.96" y1="180.1" x2="199.96" y2="182.1" stroke="#5a5a5a" stroke-width="0.8"/>
<line x1="199.96" y1="272.3" x2="199.96" y2="274.3" stroke="#5a5a5a" stroke-width="0.8"/>
<line x1="208.12" y1="180.1" x2="208.12" y2="182.1" stroke="#5a5a5a" stroke-width="0.8"/>
<line x1="208.12" y1="272.3" x2="208.12" y2="274.3" stroke="#5a5a5a" stroke-width="0.8"/>
<line x1="216.28" y1="180.1" x2="216.28" y2="182.1" stroke="#5a5a5a" stroke-width="0.8"/>
<line x1="216.28" y1="272.3" x2="216.28" y2="274.3" stroke="#5a5a5a" stroke-width="0.8"/>
<line x1="224.44" y1="180.1" x2="224.44" y2="182.1" stroke="#5a5a5a" stroke-width="0.8"/>
<line x1="224.44" y1="272.3" x2="224.44" y2="274.3" stroke="#5a5a5a" stroke-width="0.8"/>
<line x1="232.6" y1="180.1" x2="232.6" y2="182.1" stroke="#5a5a5a" stroke-width="0.8"/>
<line x1="232.6" y1="272.3" x2="232.6" y2="274.3" stroke="#5a5a5a" stroke-width="0.8"/>
<line x1="149" y1="249.18" x2="151" y2="249.18" stroke="#5a5a5a" stroke-width="0.8"/>
<line x1="232.6" y1="249.18" x2="233.8" y2="249.18" stroke="#5a5a5a" stroke-width="0.8"/>
<line x1="149" y1="235.66" x2="151" y2="235.66" stroke="#5a5a5a" stroke-width="0.8"/>
<line x1="232.6" y1="235.66" x2="233.8" y2="235.66" stroke="#5a5a5a" stroke-width="0.8"/>
<line x1="149" y1="226.06" x2="151" y2="226.06" stroke="#5a5a5a" stroke-width="0.8"/>
<line x1="232.6" y1="226.06" x2="233.8" y2="226.06" stroke="#5a5a5a" stroke-width="0.8"/>
<line x1="149" y1="218.62" x2="151" y2="218.62" stroke="#5a5a5a" stroke-width="0.8"/>
<line x1="232.6" y1="218.62" x2="233.8" y2="218.62" stroke="#5a5a5a" stroke-width="0.8"/>
<line x1="149" y1="212.54" x2="151" y2="212.54" stroke="#5a5a5a" stroke-width="0.8"/>
<line x1="232.6" y1="212.54" x2="233.8" y2="212.54" stroke="#5a5a5a" stroke-width="0.8"/>
<line x1="149" y1="207.4" x2="151" y2="207.4" stroke="#5a5a5a" stroke-width="0.8"/>
<line x1="232.6" y1="207.4" x2="233.8" y2="207.4" stroke="#5a5a5a" stroke-width="0.8"/>
<line x1="149" y1="202.94" x2="151" y2="202.94" stroke="#5a5a5a" stroke-width="0.8"/>
<line x1="232.6" y1="202.94" x2="233.8" y2="202.94" stroke="#5a5a5a" stroke-width="0.8"/>
<line x1="149" y1="199.01" x2="151" y2="199.01" stroke="#5a5a5a" stroke-width="0.8"/>
<line x1="232.6" y1="199.01" x2="233.8" y2="199.01" stroke="#5a5a5a" stroke-width="0.8"/>
<line x1="149" y1="195.5" x2="151" y2="195.5" stroke="#5a5a5a" stroke-width="0.8"/>
<line x1="232.6" y1="195.5" x2="233.8" y2="195.5" stroke="#5a5a5a" stroke-width="0.8"/>
<line x1="149" y1="192.32" x2="151" y2="192.32" stroke="#5a5a5a" stroke-width="0.8"/>
<line x1="232.6" y1="192.32" x2="233.8" y2="192.32" stroke="#5a5a5a" stroke-width="0.8"/>
<line x1="149" y1="189.42" x2="151" y2="189.42" stroke="#5a5a5a" stroke-width="0.8"/>
<line x1="232.6" y1="189.42" x2="233.8" y2="189.42" stroke="#5a5a5a" stroke-width="0.8"/>
<line x1="149" y1="186.75" x2="151" y2="186.75" stroke="#5a5a5a" stroke-width="0.8"/>
<line x1="232.6" y1="186.75" x2="233.8" y2="186.75" stroke="#5a5a5a" stroke-width="0.8"/>
<line x1="149" y1="184.28" x2="151" y2="184.28" stroke="#5a5a5a" stroke-width="0.8"/>
<line x1="232.6" y1="184.28" x2="233.8" y2="184.28" stroke="#5a5a5a" stroke-width="0.8"/>
<line x1="149" y1="181.98" x2="151" y2="181.98" stroke="#5a5a5a" stroke-width="0.8"/>
<line x1="232.6" y1="181.98" x2="233.8" y2="181.98" stroke="#5a5a5a" stroke-width="0.8"/>
<text x="146.3" y="199.3" font-size="9" font-family="Liberation Sans" fill="#3a3a3a" text-anchor="end">10<tspan font-size="6.3" dy="-3.5">0</tspan></text>
<text x="146.6" y="275.6" font-size="8.8" font-family="Liberation Sans" fill="#3a3a3a" text-anchor="end">10<tspan font-size="6.3" dy="-3.5">-1</tspan></text>
<text x="151" y="284" font-size="9" font-family="Liberation Sans" fill="#3a3a3a" text-anchor="middle">10</text>
<text x="191.8" y="284" font-size="9" font-family="Liberation Sans" fill="#3a3a3a" text-anchor="middle">20</text>
<text x="232.6" y="284" font-size="9" font-family="Liberation Sans" fill="#3a3a3a" text-anchor="middle">30</text>
<text x="190.4" y="297.5" font-size="9.6" font-family="Liberation Sans" fill="#3a3a3a" text-anchor="middle"><tspan font-style="italic" font-family="Liberation Serif" font-size="10">P</tspan><tspan font-size="6.5" dy="1.5">m</tspan><tspan dy="-1.5"> [dBm]</tspan></text>
<text x="133.4" y="226.4" font-size="9.4" font-family="Liberation Sans" fill="#1a1a1a" text-anchor="middle" transform="rotate(-90 133.4 226.4)" stroke="#1a1a1a" stroke-width="0.15"><tspan font-style="italic">g</tspan>/2<tspan font-family="Liberation Serif" font-style="italic" font-size="11">π</tspan> [GHz]</text>
<text x="120.5" y="180.5" font-size="14" font-family="Liberation Sans" fill="#000" font-weight="bold">c</text>
<line x1="276.4" y1="46.51" x2="461.2" y2="46.51" stroke="#e3e3e3" stroke-width="0.9"/>
<line x1="276.4" y1="78.4" x2="461.2" y2="78.4" stroke="#e3e3e3" stroke-width="0.9"/>
<line x1="276.4" y1="110.3" x2="461.2" y2="110.3" stroke="#e3e3e3" stroke-width="0.9"/>
<line x1="368.8" y1="14.3" x2="368.8" y2="135.5" stroke="#e3e3e3" stroke-width="0.9"/>
<path d="M276.9 134.07 L278.15 132.54 L279.4 134.35 L280.65 132.48 L281.9 134.1 L283.15 132.55 L284.4 133.91 L285.65 132.51 L286.9 134.18 L288.15 132.68 L289.4 133.86 L290.65 132.38 L291.9 133.85 L293.15 132.69 L294.4 134.22 L295.65 132.23 L296.9 134.39 L298.15 132.78 L299.4 134.19 L300.65 132.57 L301.9 133.89 L303.15 132.21 L304.4 134.12 L305.65 132.24 L306.9 133.91 L308.15 132.35 L309.4 133.82 L310.65 132.48 L311.9 134.06 L313.15 132.71 L314.4 134.11 L315.65 132.58 L316.9 134.1 L318.15 132.6 L319.4 134.07 L320.65 132.37 L321.9 134.4 L323.15 132.8 L324.4 134.3 L325.65 132.62 L326.9 133.99 L328.15 132.34 L329.4 133.97 L330.65 132.24 L331.9 134.26 L332.3 131.6 L333.38 132.38 L334.47 119.25 L335.55 130.21 L336.64 119.15 L337.72 127.51 L338.81 114.38 L339.89 128.1 L340.98 113.64 L342.06 126.85 L343.15 111.41 L344.23 124.01 L345.32 110.67 L346.4 123.75 L347.49 107.92 L348.57 121.25 L349.66 107.07 L350.74 121.32 L351.83 107.86 L352.91 118.74 L354 104.43 L355.08 117.48 L356.17 102.46 L357.25 117.36 L358.34 101.86 L359.42 115.75 L360.51 101.97 L361.59 113.93 L362.68 102.2 L363.76 112.61 L364.85 100.75 L365.93 111.89 L367.02 99.48 L368.1 112.04 L369.19 87.2 L370.27 113.25 L371.36 102.43 L372.44 112.27 L373.53 103.23 L374.61 112.54 L375.7 101.38 L376.78 113.99 L377.87 102.84 L378.95 113.2 L380.04 104.77 L381.12 113.8 L382.21 102.55 L383.29 115.11 L384.38 103.93 L385.46 114.91 L386.55 103.84 L387.63 115.66 L388.72 107.2 L389.8 116.99 L390.89 108.62 L391.97 118.28 L393.06 109.69 L394.14 120.31 L395.23 111.78 L396.31 121.7 L397.4 117.32 L398.48 123.67 L399.57 117.94 L400.65 127.96 L401.74 127.73 L402.82 131.25 L404.25 133.91 L405.5 132.64 L406.75 134.36 L408 132.32 L409.25 134.37 L410.5 132.73 L411.75 134.16 L413 132.45 L414.25 133.86 L415.5 132.22 L416.75 134.38 L418 132.34 L419.25 134.22 L420.5 132.35 L421.75 134.29 L423 132.56 L424.25 133.98 L425.5 132.31 L426.75 134.23 L428 132.24 L429.25 133.94 L430.5 132.54 L431.75 134.31 L433 132.57 L434.25 133.97 L435.5 132.75 L436.75 133.92 L438 132.21 L439.25 133.96 L440.5 132.47 L441.75 133.84 L443 132.31 L444.25 134.02 L445.5 132.54 L446.75 133.88 L448 132.42 L449.25 134.33 L450.5 132.79 L451.75 134.19 L453 132.61 L454.25 134.15 L455.5 132.28 L456.75 133.82 L458 132.21 L459.25 134.35 L460.5 132.62" fill="none" stroke="#36769c" stroke-width="0.9" stroke-linejoin="round"/>
<path d="M276.9 108.07 L278.2 106.46 L279.5 108.27 L280.8 105.94 L282.1 107.61 L283.4 106.17 L284.7 107.87 L286 106.61 L287.3 108.29 L288.6 106.4 L289.9 108.16 L291.2 106.46 L292.5 107.75 L293.8 106.24 L295.1 107.76 L296.4 106.71 L297.7 107.66 L299 106.62 L300.3 107.67 L301.6 106.49 L302.9 107.94 L304.2 106.2 L305.5 108.44 L306.8 105.82 L308.1 107.66 L309.4 106.72 L310.7 108.11 L312 105.89 L313.3 108.59 L314.6 106.75 L315.9 107.71 L317.2 106.22 L318.5 107.74 L319.8 106.11 L321 107.02 L322.08 106.42 L323.17 103.11 L324.25 105.16 L325.34 96.16 L326.42 105.37 L327.51 94.56 L328.59 103.73 L329.68 92.79 L330.76 102.71 L331.85 90.42 L332.93 100.72 L334.02 91.06 L335.1 100.94 L336.19 91.25 L337.27 99.17 L338.36 87.09 L339.44 97.41 L340.53 87.64 L341.61 96.79 L342.7 83.48 L343.78 95.02 L344.87 83.44 L345.95 94.4 L347.04 84.4 L348.12 93.32 L349.21 79.21 L350.29 92.8 L351.38 80.21 L352.46 91.44 L353.55 78.33 L354.63 90.43 L355.72 78.31 L356.8 90.11 L357.89 76.04 L358.97 88.89 L360.06 75.58 L361.14 88.21 L362.23 74.51 L363.31 86.57 L364.4 75.69 L365.48 86.19 L366.57 73.97 L367.65 84.94 L368.74 62 L369.82 84.5 L370.91 76.16 L371.99 86.33 L373.08 76.73 L374.16 86.84 L375.25 76.22 L376.33 87.31 L377.42 78.26 L378.5 86.65 L379.59 81.24 L380.67 88.29 L381.76 78.42 L382.84 87.7 L383.93 83.09 L385.01 88.25 L386.1 81.29 L387.18 88.15 L388.27 81.13 L389.35 89.56 L390.44 86.78 L391.52 90.89 L392.61 85.66 L393.69 90.18 L394.78 86.03 L395.86 92.25 L396.95 89.86 L398.03 92.86 L399.12 88.13 L400.2 93.56 L401.29 90.53 L402.37 95 L403.46 90.54 L404.54 96.8 L405.63 94.79 L406.71 96.82 L407.8 92.86 L408.88 99.24 L409.97 93.88 L411.05 100.72 L412.14 96.45 L413.22 101.77 L414.31 98.79 L415.39 102.46 L416.48 98.09 L417.56 103.98 L418.65 102.56 L419.73 106.13 L420.82 103.6 L421.9 107.57 L423.3 108.02 L424.6 106.04 L425.9 108.04 L427.2 106.78 L428.5 108.16 L429.8 106.42 L431.1 108.52 L432.4 106.76 L433.7 108.36 L435 106.22 L436.3 108.19 L437.6 106.7 L438.9 108.39 L440.2 106.38 L441.5 107.95 L442.8 106.17 L444.1 108.34 L445.4 106.36 L446.7 107.62 L448 106.51 L449.3 108.5 L450.6 106.6 L451.9 108.5 L453.2 106.71 L454.5 108.13 L455.8 106.59 L457.1 107.98 L458.4 105.9 L459.7 107.95" fill="none" stroke="#2faa6b" stroke-width="0.9" stroke-linejoin="round"/>
<path d="M276.9 82.41 L278.1 81.52 L279.3 82.92 L280.5 81.72 L281.7 82.32 L282.9 80.98 L284.1 82.28 L285.3 80.97 L286.5 82.98 L287 80.36 L288.08 82.93 L289.17 79.23 L290.25 82.32 L291.34 79.04 L292.42 82.96 L293.51 78.46 L294.59 81.41 L295.68 75.27 L296.76 81.39 L297.85 77.77 L298.93 82.22 L300.02 76.63 L301.1 82.01 L302.19 75.51 L303.27 81.98 L304.36 75 L305.44 80.63 L306.53 74.52 L307.61 80.77 L308.7 73.22 L309.78 80.66 L310.87 70.65 L311.95 80.11 L313.04 69.87 L314.12 79.8 L315.21 67.36 L316.29 80.28 L317.38 70.17 L318.46 80.15 L319.55 68.65 L320.63 79.07 L321.72 68.03 L322.8 78.01 L323.89 66.71 L324.97 78.11 L326.06 63.02 L327.14 77.34 L328.23 64 L329.31 77.03 L330.4 62.72 L331.48 77.2 L332.57 61.44 L333.65 76.05 L334.74 61.03 L335.82 75.83 L336.91 58.69 L337.99 75.37 L339.08 58.49 L340.16 74.78 L341.25 59.29 L342.33 75.64 L343.42 57.1 L344.5 74.72 L345.59 59.32 L346.67 73.1 L347.76 54.21 L348.84 73.78 L349.93 57.28 L351.01 72.97 L352.1 52.79 L353.18 72.07 L354.27 55.93 L355.35 72.28 L356.44 54.81 L357.52 70.64 L358.61 54.33 L359.69 70.38 L360.78 52.82 L361.86 69.45 L362.95 53.46 L364.03 68.37 L365.12 51.37 L366.2 65.83 L367.29 50.79 L368.37 64.5 L369.46 36.6 L370.54 65.46 L371.63 51.4 L372.71 67.53 L373.8 49.72 L374.88 69.35 L375.97 52.7 L377.05 69.91 L378.14 51.02 L379.22 70.41 L380.31 54.16 L381.39 71.75 L382.48 54.44 L383.56 71.49 L384.65 54.71 L385.73 72.54 L386.82 53.64 L387.9 72.56 L388.99 59.46 L390.07 73.31 L391.16 56.47 L392.24 74.11 L393.33 58.94 L394.41 74.37 L395.5 59.09 L396.58 75.4 L397.67 62.01 L398.75 75.39 L399.84 60.17 L400.92 76.66 L402.01 64.58 L403.09 77.07 L404.18 62.76 L405.26 77.69 L406.35 62.7 L407.43 77.05 L408.52 64.74 L409.6 78.84 L410.69 66.95 L411.77 78.17 L412.86 67.56 L413.94 79.5 L415.03 66.13 L416.11 79.46 L417.2 67.58 L418.28 79.29 L419.37 68.12 L420.45 79.56 L421.54 69.25 L422.62 79.47 L423.71 70.25 L424.79 79.73 L425.88 72.97 L426.96 80.72 L428.05 69.56 L429.13 81.18 L430.22 71.32 L431.3 80.89 L432.39 74.06 L433.47 80.83 L434.56 73.34 L435.64 81.16 L436.73 73.24 L437.81 82.03 L438.9 73.84 L439.98 82.14 L441.07 75.16 L442.15 81.48 L443.24 76.84 L444.32 81.23 L445.41 76.14 L446.49 81.93 L447.58 78.61 L448.66 82.93 L449.75 81.9 L450.83 81.77 L451.92 80.16 L453 82.08 L454.09 81.71 L455.17 82.57 L456.26 82.35 L458.2 82.75 L459.4 80.85 L460.6 82.11" fill="none" stroke="#dd8a2c" stroke-width="0.9" stroke-linejoin="round"/>
<path d="M276.9 56.75 L278.1 55.98 L279.3 57.51 L280.5 56.32 L281.7 56.98 L282.9 55.36 L284.1 57.63 L285.3 55.92 L286.5 57.02 L287.7 55.96 L288.9 57.16 L290 56.78 L291.08 56.78 L292.17 54.82 L293.25 57.82 L294.34 54.58 L295.42 56.57 L296.51 55.72 L297.59 56.95 L298.68 52.42 L299.76 56.61 L300.85 54.27 L301.93 55.77 L303.02 53.7 L304.1 55.49 L305.19 51.16 L306.27 55.21 L307.36 49.61 L308.44 56.42 L309.53 49.9 L310.61 56.17 L311.7 49.07 L312.78 55.16 L313.87 50.39 L314.95 54.89 L316.04 45.13 L317.12 54.34 L318.21 46.94 L319.29 53.29 L320.38 42.9 L321.46 54 L322.55 44.13 L323.63 52.51 L324.72 42.73 L325.8 52.15 L326.89 43.56 L327.97 52.21 L329.06 38.66 L330.14 52.32 L331.23 37.52 L332.31 51.06 L333.4 36.11 L334.48 51.4 L335.57 35.51 L336.65 50.65 L337.74 34.33 L338.82 50.18 L339.91 36.51 L340.99 49.56 L342.08 34.35 L343.16 48.39 L344.25 33.37 L345.33 47.49 L346.42 30.6 L347.5 46.21 L348.59 30.49 L349.67 45.75 L350.76 33.47 L351.84 43.38 L352.93 28.21 L354.01 43.32 L355.1 29.68 L356.18 41.14 L357.27 29.53 L358.35 41.53 L359.44 27.1 L360.52 39.49 L361.61 27.01 L362.69 39.29 L363.78 24.45 L364.86 37 L365.95 23.54 L367.03 36.24 L368.12 14.3 L369.2 34.87 L370.29 24.63 L371.37 35.92 L372.46 24.39 L373.54 38.83 L374.63 26.7 L375.71 38.9 L376.8 29.42 L377.88 39.78 L378.97 26.46 L380.05 40.03 L381.14 26.68 L382.22 41.05 L383.31 27.94 L384.39 42.89 L385.48 28.94 L386.56 42.65 L387.65 31.61 L388.73 44.47 L389.82 30.69 L390.9 44.99 L391.99 31.92 L393.07 45.42 L394.16 33.97 L395.24 46.76 L396.33 35.68 L397.41 46.55 L398.5 36.97 L399.58 46.81 L400.67 35.29 L401.75 48.24 L402.84 37.02 L403.92 48.42 L405.01 36.58 L406.09 49.13 L407.18 39.05 L408.26 48.54 L409.35 41.65 L410.43 49.38 L411.52 39.22 L412.6 49.53 L413.69 38.75 L414.77 49.92 L415.86 42.83 L416.94 50.3 L418.03 41.28 L419.11 51.27 L420.2 43.68 L421.28 51.65 L422.37 45.84 L423.45 51.93 L424.54 44.38 L425.62 52.69 L426.71 43.9 L427.79 52.84 L428.88 44.83 L429.96 54.13 L431.05 45.67 L432.13 54.52 L433.22 46.91 L434.3 54.97 L435.39 50.14 L436.47 54.98 L437.56 52.49 L438.64 55.95 L439.73 51.26 L440.81 55.4 L441.9 51.81 L442.98 56.07 L444.07 53.43 L445.15 57.47 L446.24 56.01 L447.32 56.4 L448.41 56.01 L449.49 58.12 L451.2 57.36 L452.4 55.14 L453.6 57.81 L454.8 55.6 L456 57.97 L457.2 56.22 L458.4 57.76 L459.6 56.3" fill="none" stroke="#d9473f" stroke-width="0.9" stroke-linejoin="round"/>
<line x1="276.4" y1="14.3" x2="276.4" y2="135.5" stroke="#a6a6a6" stroke-width="1.4"/>
<line x1="461.2" y1="14.3" x2="461.2" y2="135.5" stroke="#a6a6a6" stroke-width="1.4"/>
<line x1="275.7" y1="14.3" x2="461.9" y2="14.3" stroke="#4d4d4d" stroke-width="1"/>
<line x1="275.7" y1="135.5" x2="461.9" y2="135.5" stroke="#4d4d4d" stroke-width="1"/>
<line x1="276.4" y1="12.3" x2="276.4" y2="14.3" stroke="#5a5a5a" stroke-width="0.8"/>
<line x1="276.4" y1="135.5" x2="276.4" y2="137.5" stroke="#5a5a5a" stroke-width="0.8"/>
<line x1="294.88" y1="12.3" x2="294.88" y2="14.3" stroke="#5a5a5a" stroke-width="0.8"/>
<line x1="294.88" y1="135.5" x2="294.88" y2="137.5" stroke="#5a5a5a" stroke-width="0.8"/>
<line x1="313.36" y1="12.3" x2="313.36" y2="14.3" stroke="#5a5a5a" stroke-width="0.8"/>
<line x1="313.36" y1="135.5" x2="313.36" y2="137.5" stroke="#5a5a5a" stroke-width="0.8"/>
<line x1="331.84" y1="12.3" x2="331.84" y2="14.3" stroke="#5a5a5a" stroke-width="0.8"/>
<line x1="331.84" y1="135.5" x2="331.84" y2="137.5" stroke="#5a5a5a" stroke-width="0.8"/>
<line x1="350.32" y1="12.3" x2="350.32" y2="14.3" stroke="#5a5a5a" stroke-width="0.8"/>
<line x1="350.32" y1="135.5" x2="350.32" y2="137.5" stroke="#5a5a5a" stroke-width="0.8"/>
<line x1="368.8" y1="12.3" x2="368.8" y2="14.3" stroke="#5a5a5a" stroke-width="0.8"/>
<line x1="368.8" y1="135.5" x2="368.8" y2="137.5" stroke="#5a5a5a" stroke-width="0.8"/>
<line x1="387.28" y1="12.3" x2="387.28" y2="14.3" stroke="#5a5a5a" stroke-width="0.8"/>
<line x1="387.28" y1="135.5" x2="387.28" y2="137.5" stroke="#5a5a5a" stroke-width="0.8"/>
<line x1="405.76" y1="12.3" x2="405.76" y2="14.3" stroke="#5a5a5a" stroke-width="0.8"/>
<line x1="405.76" y1="135.5" x2="405.76" y2="137.5" stroke="#5a5a5a" stroke-width="0.8"/>
<line x1="424.24" y1="12.3" x2="424.24" y2="14.3" stroke="#5a5a5a" stroke-width="0.8"/>
<line x1="424.24" y1="135.5" x2="424.24" y2="137.5" stroke="#5a5a5a" stroke-width="0.8"/>
<line x1="442.72" y1="12.3" x2="442.72" y2="14.3" stroke="#5a5a5a" stroke-width="0.8"/>
<line x1="442.72" y1="135.5" x2="442.72" y2="137.5" stroke="#5a5a5a" stroke-width="0.8"/>
<line x1="461.2" y1="12.3" x2="461.2" y2="14.3" stroke="#5a5a5a" stroke-width="0.8"/>
<line x1="461.2" y1="135.5" x2="461.2" y2="137.5" stroke="#5a5a5a" stroke-width="0.8"/>
<line x1="274.4" y1="135.81" x2="276.4" y2="135.81" stroke="#5a5a5a" stroke-width="0.8"/>
<line x1="461.2" y1="135.81" x2="462.4" y2="135.81" stroke="#5a5a5a" stroke-width="0.8"/>
<line x1="274.4" y1="129.43" x2="276.4" y2="129.43" stroke="#5a5a5a" stroke-width="0.8"/>
<line x1="461.2" y1="129.43" x2="462.4" y2="129.43" stroke="#5a5a5a" stroke-width="0.8"/>
<line x1="274.4" y1="123.05" x2="276.4" y2="123.05" stroke="#5a5a5a" stroke-width="0.8"/>
<line x1="461.2" y1="123.05" x2="462.4" y2="123.05" stroke="#5a5a5a" stroke-width="0.8"/>
<line x1="274.4" y1="116.67" x2="276.4" y2="116.67" stroke="#5a5a5a" stroke-width="0.8"/>
<line x1="461.2" y1="116.67" x2="462.4" y2="116.67" stroke="#5a5a5a" stroke-width="0.8"/>
<line x1="274.4" y1="110.3" x2="276.4" y2="110.3" stroke="#5a5a5a" stroke-width="0.8"/>
<line x1="461.2" y1="110.3" x2="462.4" y2="110.3" stroke="#5a5a5a" stroke-width="0.8"/>
<line x1="274.4" y1="103.92" x2="276.4" y2="103.92" stroke="#5a5a5a" stroke-width="0.8"/>
<line x1="461.2" y1="103.92" x2="462.4" y2="103.92" stroke="#5a5a5a" stroke-width="0.8"/>
<line x1="274.4" y1="97.54" x2="276.4" y2="97.54" stroke="#5a5a5a" stroke-width="0.8"/>
<line x1="461.2" y1="97.54" x2="462.4" y2="97.54" stroke="#5a5a5a" stroke-width="0.8"/>
<line x1="274.4" y1="91.16" x2="276.4" y2="91.16" stroke="#5a5a5a" stroke-width="0.8"/>
<line x1="461.2" y1="91.16" x2="462.4" y2="91.16" stroke="#5a5a5a" stroke-width="0.8"/>
<line x1="274.4" y1="84.78" x2="276.4" y2="84.78" stroke="#5a5a5a" stroke-width="0.8"/>
<line x1="461.2" y1="84.78" x2="462.4" y2="84.78" stroke="#5a5a5a" stroke-width="0.8"/>
<line x1="274.4" y1="78.4" x2="276.4" y2="78.4" stroke="#5a5a5a" stroke-width="0.8"/>
<line x1="461.2" y1="78.4" x2="462.4" y2="78.4" stroke="#5a5a5a" stroke-width="0.8"/>
<line x1="274.4" y1="72.02" x2="276.4" y2="72.02" stroke="#5a5a5a" stroke-width="0.8"/>
<line x1="461.2" y1="72.02" x2="462.4" y2="72.02" stroke="#5a5a5a" stroke-width="0.8"/>
<line x1="274.4" y1="65.64" x2="276.4" y2="65.64" stroke="#5a5a5a" stroke-width="0.8"/>
<line x1="461.2" y1="65.64" x2="462.4" y2="65.64" stroke="#5a5a5a" stroke-width="0.8"/>
<line x1="274.4" y1="59.26" x2="276.4" y2="59.26" stroke="#5a5a5a" stroke-width="0.8"/>
<line x1="461.2" y1="59.26" x2="462.4" y2="59.26" stroke="#5a5a5a" stroke-width="0.8"/>
<line x1="274.4" y1="52.88" x2="276.4" y2="52.88" stroke="#5a5a5a" stroke-width="0.8"/>
<line x1="461.2" y1="52.88" x2="462.4" y2="52.88" stroke="#5a5a5a" stroke-width="0.8"/>
<line x1="274.4" y1="46.51" x2="276.4" y2="46.51" stroke="#5a5a5a" stroke-width="0.8"/>
<line x1="461.2" y1="46.51" x2="462.4" y2="46.51" stroke="#5a5a5a" stroke-width="0.8"/>
<line x1="274.4" y1="40.13" x2="276.4" y2="40.13" stroke="#5a5a5a" stroke-width="0.8"/>
<line x1="461.2" y1="40.13" x2="462.4" y2="40.13" stroke="#5a5a5a" stroke-width="0.8"/>
<line x1="274.4" y1="33.75" x2="276.4" y2="33.75" stroke="#5a5a5a" stroke-width="0.8"/>
<line x1="461.2" y1="33.75" x2="462.4" y2="33.75" stroke="#5a5a5a" stroke-width="0.8"/>
<line x1="274.4" y1="27.37" x2="276.4" y2="27.37" stroke="#5a5a5a" stroke-width="0.8"/>
<line x1="461.2" y1="27.37" x2="462.4" y2="27.37" stroke="#5a5a5a" stroke-width="0.8"/>
<line x1="274.4" y1="20.99" x2="276.4" y2="20.99" stroke="#5a5a5a" stroke-width="0.8"/>
<line x1="461.2" y1="20.99" x2="462.4" y2="20.99" stroke="#5a5a5a" stroke-width="0.8"/>
<line x1="274.4" y1="14.61" x2="276.4" y2="14.61" stroke="#5a5a5a" stroke-width="0.8"/>
<line x1="461.2" y1="14.61" x2="462.4" y2="14.61" stroke="#5a5a5a" stroke-width="0.8"/>
<text x="271.8" y="17.91" font-size="9.1" font-family="Liberation Sans" fill="#3a3a3a" text-anchor="end">100</text>
<text x="271.8" y="49.81" font-size="9.1" font-family="Liberation Sans" fill="#3a3a3a" text-anchor="end">50</text>
<text x="271.8" y="81.7" font-size="9.1" font-family="Liberation Sans" fill="#3a3a3a" text-anchor="end">0</text>
<text x="271.8" y="113.59" font-size="9.1" font-family="Liberation Sans" fill="#3a3a3a" text-anchor="end">-50</text>
<text x="276.4" y="148.6" font-size="9" font-family="Liberation Sans" fill="#3a3a3a" text-anchor="middle">1525</text>
<text x="368.8" y="148.6" font-size="9" font-family="Liberation Sans" fill="#3a3a3a" text-anchor="middle">1530</text>
<text x="461.2" y="148.6" font-size="9" font-family="Liberation Sans" fill="#3a3a3a" text-anchor="middle">1535</text>
<line x1="490.4" y1="46.51" x2="674.8" y2="46.51" stroke="#e3e3e3" stroke-width="0.9"/>
<line x1="490.4" y1="78.4" x2="674.8" y2="78.4" stroke="#e3e3e3" stroke-width="0.9"/>
<line x1="490.4" y1="110.3" x2="674.8" y2="110.3" stroke="#e3e3e3" stroke-width="0.9"/>
<line x1="582.6" y1="14.3" x2="582.6" y2="135.5" stroke="#e3e3e3" stroke-width="0.9"/>
<path d="M490.9 133.9 L492.15 132.61 L493.4 134.18 L494.65 132.49 L495.9 133.93 L497.15 132.68 L498.4 134.28 L499.65 132.51 L500.9 134.1 L502.15 132.34 L503.4 133.8 L504.65 132.42 L505.9 134.15 L507.15 132.24 L508.4 134.28 L509.65 132.34 L510.9 133.94 L512.15 132.23 L513.4 134.4 L514.65 132.64 L515.9 134.33 L517.15 132.57 L518.4 133.82 L519.65 132.4 L520.9 134.1 L522.15 132.27 L523.4 134.37 L524.65 132.42 L525.9 133.89 L527.15 132.69 L528.4 133.87 L529.65 132.76 L530.9 134.07 L532.15 132.53 L533.4 134.01 L534.65 132.49 L535.9 133.91 L537.15 132.22 L538.4 134.32 L539.65 132.34 L540.9 134.27 L542.15 132.33 L543.4 134.38 L544.65 132.74 L545.9 134.25 L547.15 132.66 L548.4 134.15 L549.65 132.64 L550.5 131.18 L551.59 132.05 L552.67 123.44 L553.76 129.78 L554.84 119.66 L555.93 129.05 L557.01 114.4 L558.1 126.39 L559.18 111.64 L560.27 124.71 L561.35 112.29 L562.44 123.83 L563.52 106.84 L564.61 122.48 L565.69 108.85 L566.78 123.04 L567.86 106.76 L568.95 121.36 L570.03 105.91 L571.12 120.89 L572.2 103.33 L573.29 119.79 L574.37 103.74 L575.46 118.93 L576.54 100.95 L577.63 117.32 L578.71 100.97 L579.8 118.38 L580.88 100.96 L581.97 117.86 L583.05 85 L584.14 117.07 L585.22 99.7 L586.31 118.2 L587.39 103.08 L588.48 118.1 L589.56 103.7 L590.65 119.46 L591.73 105.7 L592.82 120.79 L593.9 104.53 L594.99 121.72 L596.07 108.06 L597.16 121.96 L598.24 108.74 L599.33 122.68 L600.41 107.5 L601.5 123.17 L602.58 110.79 L603.67 123.92 L604.75 108.19 L605.84 125.97 L606.92 113.4 L608.01 126.69 L609.09 115.86 L610.18 127.24 L611.26 115.42 L612.35 128.86 L613.43 120.16 L614.52 129.91 L615.6 123.54 L616.69 131.42 L617.77 130.96 L618.86 133.69 L620.25 134.25 L621.5 132.49 L622.75 133.95 L624 132.78 L625.25 134.12 L626.5 132.64 L627.75 133.82 L629 132.33 L630.25 134.3 L631.5 132.68 L632.75 134.33 L634 132.56 L635.25 134.06 L636.5 132.55 L637.75 134.31 L639 132.38 L640.25 134.12 L641.5 132.37 L642.75 134.26 L644 132.21 L645.25 134.21 L646.5 132.77 L647.75 133.81 L649 132.56 L650.25 134.19 L651.5 132.71 L652.75 134.15 L654 132.35 L655.25 134.04 L656.5 132.78 L657.75 134.34 L659 132.28 L660.25 133.86 L661.5 132.26 L662.75 133.82 L664 132.47 L665.25 133.88 L666.5 132.72 L667.75 134.19 L669 132.28 L670.25 134.12 L671.5 132.39 L672.75 134.1 L674 132.33" fill="none" stroke="#36769c" stroke-width="0.9" stroke-linejoin="round"/>
<path d="M490.9 108.06 L492.2 105.44 L493.5 107.12 L494.8 106.3 L496.1 107.28 L497.4 105.42 L498.7 107.75 L500 105.65 L501.3 107.99 L502.6 105.53 L503.9 108.06 L505.2 105.62 L506.5 107.7 L507.8 106.23 L509.1 107.79 L510.4 106.22 L511.7 107.81 L513 105.35 L514.3 107.98 L515.6 105.89 L516.9 107.41 L518.2 105.49 L519.5 107.95 L520.8 105.88 L522.1 108.04 L523.4 106.07 L524.7 108.06 L526 105.87 L527.3 107.8 L528.6 105.91 L529.9 107.36 L531.2 106.26 L532.5 107.41 L533.8 106.08 L535.1 108.05 L536.4 105.95 L537.7 107.24 L539 106.13 L540.3 107.77 L541.3 106.15 L542.38 105.15 L543.47 99.82 L544.56 102.85 L545.64 95.53 L546.73 101.34 L547.81 88.06 L548.9 99.68 L549.98 87.69 L551.07 100.05 L552.15 85.25 L553.24 98.75 L554.32 85.95 L555.41 98.19 L556.49 85.35 L557.58 98.15 L558.66 83.86 L559.75 97.93 L560.83 83.66 L561.92 96.56 L563 85.33 L564.09 96.55 L565.17 81.84 L566.26 96.19 L567.34 83.65 L568.43 96.64 L569.51 80.89 L570.6 95.32 L571.68 78.14 L572.77 95.68 L573.85 77.84 L574.94 94.69 L576.02 78.06 L577.11 93.9 L578.19 77.49 L579.28 93.51 L580.36 75.88 L581.45 94.06 L582.53 61.3 L583.62 94.24 L584.7 76.71 L585.79 94.31 L586.87 75.96 L587.96 94.05 L589.04 80.54 L590.13 95.3 L591.21 79.45 L592.3 95.61 L593.38 80.38 L594.47 95.53 L595.55 81.56 L596.64 96.71 L597.72 83.1 L598.81 96.32 L599.89 83.76 L600.98 97.02 L602.06 82.64 L603.15 97.68 L604.23 85.71 L605.32 97.84 L606.4 87.07 L607.49 97.33 L608.57 85.61 L609.66 98.75 L610.74 85.55 L611.83 98.44 L612.91 88.06 L614 99.29 L615.08 86.69 L616.17 99.1 L617.25 91.29 L618.34 100.61 L619.42 90.95 L620.51 101.78 L621.59 95.54 L622.68 104.2 L623.76 99.13 L624.85 104.63 L625.93 102.49 L627.02 106.33 L629.3 107.31 L630.6 105.64 L631.9 107.83 L633.2 106.23 L634.5 107.93 L635.8 105.34 L637.1 107.48 L638.4 106.15 L639.7 107.13 L641 105.5 L642.3 107.59 L643.6 105.68 L644.9 107.85 L646.2 106.02 L647.5 107.56 L648.8 105.55 L650.1 107.33 L651.4 105.57 L652.7 107.17 L654 105.97 L655.3 107.26 L656.6 106.19 L657.9 107.75 L659.2 105.36 L660.5 107.6 L661.8 105.9 L663.1 107.14 L664.4 105.79 L665.7 107.13 L667 106.07 L668.3 107.1 L669.6 105.93 L670.9 108.09 L672.2 106.15 L673.5 107.33" fill="none" stroke="#2faa6b" stroke-width="0.9" stroke-linejoin="round"/>
<path d="M490.9 81.84 L492.6 79.86 L494.3 81.81 L496 79.17 L497.7 81.57 L499.4 79.44 L501.1 81.52 L502.8 79.2 L504.5 81.25 L506.2 79.46 L507.9 81.28 L509.6 79.46 L511.3 81.12 L512 80.16 L513.09 80.89 L514.17 74.07 L515.26 77.99 L516.34 73.86 L517.43 77.53 L518.51 69.35 L519.6 77.99 L520.68 71.48 L521.77 77.58 L522.85 70.86 L523.94 77.86 L525.02 68.65 L526.11 77.31 L527.19 67.89 L528.28 76.79 L529.36 68.7 L530.45 76.16 L531.53 64.74 L532.62 76.2 L533.7 67.42 L534.79 76.17 L535.87 65.04 L536.96 75.64 L538.04 62.53 L539.13 74.25 L540.21 62.25 L541.3 74.62 L542.38 60.5 L543.47 72.84 L544.55 58.91 L545.64 72.07 L546.72 58.83 L547.81 72.28 L548.89 60.78 L549.98 71.24 L551.06 57.24 L552.15 70.52 L553.23 55.83 L554.32 70.65 L555.4 56.19 L556.49 69.24 L557.57 53.07 L558.66 69.54 L559.74 55.68 L560.83 69.07 L561.91 52.42 L563 68.07 L564.08 55.47 L565.17 67.61 L566.25 54.93 L567.34 66.38 L568.42 54.4 L569.51 65.66 L570.59 50.64 L571.68 65.07 L572.76 52.12 L573.85 65.59 L574.93 52.33 L576.02 65.09 L577.1 51.5 L578.19 63.8 L579.27 51.44 L580.36 63.28 L581.44 36.1 L582.53 62.79 L583.61 48.07 L584.7 62.36 L585.78 46.42 L586.87 63.67 L587.95 47.38 L589.04 65.3 L590.12 52.22 L591.21 64.85 L592.29 48.25 L593.38 65.89 L594.46 49.3 L595.55 66.46 L596.63 53.53 L597.72 66.53 L598.8 52.06 L599.89 68.11 L600.97 52.88 L602.06 67.76 L603.14 56.03 L604.23 69.06 L605.31 56.73 L606.4 69.4 L607.48 54.77 L608.57 69.95 L609.65 57.75 L610.74 70.44 L611.82 55.49 L612.91 70.54 L613.99 57.49 L615.08 71.96 L616.16 59.35 L617.25 72.25 L618.33 61.89 L619.42 72.2 L620.5 61.86 L621.59 73.21 L622.67 62.52 L623.76 74.66 L624.84 61.86 L625.93 75.5 L627.01 61.98 L628.1 75.53 L629.18 65.58 L630.27 75.63 L631.35 67.01 L632.44 76.44 L633.52 67.88 L634.61 77.27 L635.69 66.91 L636.78 77.16 L637.86 72.7 L638.95 77.22 L640.03 76.5 L641.12 79.76 L643.7 81.64 L645.4 79.24 L647.1 81.46 L648.8 79.44 L650.5 81.17 L652.2 79.66 L653.9 81.48 L655.6 79.65 L657.3 81.53 L659 79.54 L660.7 81.52 L662.4 79.34 L664.1 81.82 L665.8 79.17 L667.5 81.8 L669.2 79.79 L670.9 81.5 L672.6 79.72" fill="none" stroke="#dd8a2c" stroke-width="0.9" stroke-linejoin="round"/>
<path d="M490.9 51.78 L491.98 60.31 L493.07 48.28 L494.15 60.25 L495.24 47.75 L496.32 59.42 L497.41 46.59 L498.49 59.24 L499.58 46.33 L500.66 58.85 L501.75 48.89 L502.83 58.63 L503.92 46.74 L505 58.47 L506.09 49.15 L507.17 56.96 L508.26 45.97 L509.34 58 L510.43 46.6 L511.51 56.86 L512.6 43.61 L513.68 57.36 L514.77 41.82 L515.85 56.74 L516.94 45.39 L518.02 55.46 L519.11 41.96 L520.19 55.38 L521.28 42.55 L522.36 55.17 L523.45 43.89 L524.53 55.75 L525.62 40.12 L526.71 55.23 L527.79 38.18 L528.88 53.45 L529.96 40.86 L531.05 54.07 L532.13 41.11 L533.22 53.87 L534.3 40.74 L535.39 52.2 L536.47 39.51 L537.56 52.75 L538.64 35.35 L539.73 51.56 L540.81 35.09 L541.9 50.49 L542.98 36.28 L544.07 50.82 L545.15 38.41 L546.24 49.46 L547.32 35.24 L548.41 50.33 L549.49 36.08 L550.58 49.08 L551.66 32.61 L552.75 48.74 L553.83 32.12 L554.92 48.25 L556 33.66 L557.09 47.1 L558.17 33.87 L559.26 46.36 L560.34 31.43 L561.43 46.28 L562.51 29.26 L563.6 44.49 L564.68 30.08 L565.77 44.13 L566.85 30.76 L567.94 43.07 L569.02 27.03 L570.11 42.01 L571.19 26.51 L572.28 41.65 L573.36 25.53 L574.45 41.62 L575.53 22.3 L576.62 41.15 L577.7 25.05 L578.79 40 L579.87 23.96 L580.96 38.77 L582.04 13.8 L583.13 38.05 L584.21 22.21 L585.3 38.78 L586.38 22.62 L587.47 39.71 L588.55 26.59 L589.64 41.33 L590.72 25.97 L591.81 40.86 L592.89 24.73 L593.98 42.46 L595.06 27.94 L596.15 43.02 L597.23 28.46 L598.32 44.56 L599.4 27.29 L600.49 44.48 L601.57 30.85 L602.66 45.14 L603.74 31.48 L604.83 46.02 L605.91 28.36 L607 46.89 L608.08 29.24 L609.17 48.16 L610.25 34.11 L611.34 48.36 L612.42 35.02 L613.51 48.36 L614.59 33.13 L615.68 48.81 L616.76 31.55 L617.85 50.35 L618.93 32.18 L620.02 51.03 L621.1 35.56 L622.19 51.16 L623.27 33.38 L624.36 52 L625.44 38.08 L626.53 51.22 L627.61 35.32 L628.7 51.79 L629.78 37.7 L630.87 52.19 L631.95 39.92 L633.04 53.37 L634.12 40.01 L635.21 53.49 L636.29 40.34 L637.38 54.31 L638.46 40.91 L639.55 54.75 L640.63 43.4 L641.72 55.8 L642.8 43.14 L643.89 55.3 L644.97 40.22 L646.06 55.32 L647.14 40.5 L648.23 56.93 L649.31 41.93 L650.4 57.09 L651.48 42.26 L652.57 57 L653.65 42.96 L654.74 56.81 L655.82 46.31 L656.91 57.6 L657.99 48.01 L659.08 57.32 L660.16 44.9 L661.25 57.35 L662.33 45.19 L663.42 59.13 L664.5 47.72 L665.59 58.64 L666.67 47.1 L667.76 59.4 L668.84 49.63 L669.93 58.75 L671.01 46.7 L672.1 59.09 L673.18 51.54 L674.27 60.3" fill="none" stroke="#d9473f" stroke-width="0.9" stroke-linejoin="round"/>
<line x1="490.4" y1="14.3" x2="490.4" y2="135.5" stroke="#a6a6a6" stroke-width="1.4"/>
<line x1="674.8" y1="14.3" x2="674.8" y2="135.5" stroke="#a6a6a6" stroke-width="1.4"/>
<line x1="489.7" y1="14.3" x2="675.5" y2="14.3" stroke="#4d4d4d" stroke-width="1"/>
<line x1="489.7" y1="135.5" x2="675.5" y2="135.5" stroke="#4d4d4d" stroke-width="1"/>
<line x1="490.4" y1="12.3" x2="490.4" y2="14.3" stroke="#5a5a5a" stroke-width="0.8"/>
<line x1="490.4" y1="135.5" x2="490.4" y2="137.5" stroke="#5a5a5a" stroke-width="0.8"/>
<line x1="508.84" y1="12.3" x2="508.84" y2="14.3" stroke="#5a5a5a" stroke-width="0.8"/>
<line x1="508.84" y1="135.5" x2="508.84" y2="137.5" stroke="#5a5a5a" stroke-width="0.8"/>
<line x1="527.28" y1="12.3" x2="527.28" y2="14.3" stroke="#5a5a5a" stroke-width="0.8"/>
<line x1="527.28" y1="135.5" x2="527.28" y2="137.5" stroke="#5a5a5a" stroke-width="0.8"/>
<line x1="545.72" y1="12.3" x2="545.72" y2="14.3" stroke="#5a5a5a" stroke-width="0.8"/>
<line x1="545.72" y1="135.5" x2="545.72" y2="137.5" stroke="#5a5a5a" stroke-width="0.8"/>
<line x1="564.16" y1="12.3" x2="564.16" y2="14.3" stroke="#5a5a5a" stroke-width="0.8"/>
<line x1="564.16" y1="135.5" x2="564.16" y2="137.5" stroke="#5a5a5a" stroke-width="0.8"/>
<line x1="582.6" y1="12.3" x2="582.6" y2="14.3" stroke="#5a5a5a" stroke-width="0.8"/>
<line x1="582.6" y1="135.5" x2="582.6" y2="137.5" stroke="#5a5a5a" stroke-width="0.8"/>
<line x1="601.04" y1="12.3" x2="601.04" y2="14.3" stroke="#5a5a5a" stroke-width="0.8"/>
<line x1="601.04" y1="135.5" x2="601.04" y2="137.5" stroke="#5a5a5a" stroke-width="0.8"/>
<line x1="619.48" y1="12.3" x2="619.48" y2="14.3" stroke="#5a5a5a" stroke-width="0.8"/>
<line x1="619.48" y1="135.5" x2="619.48" y2="137.5" stroke="#5a5a5a" stroke-width="0.8"/>
<line x1="637.92" y1="12.3" x2="637.92" y2="14.3" stroke="#5a5a5a" stroke-width="0.8"/>
<line x1="637.92" y1="135.5" x2="637.92" y2="137.5" stroke="#5a5a5a" stroke-width="0.8"/>
<line x1="656.36" y1="12.3" x2="656.36" y2="14.3" stroke="#5a5a5a" stroke-width="0.8"/>
<line x1="656.36" y1="135.5" x2="656.36" y2="137.5" stroke="#5a5a5a" stroke-width="0.8"/>
<line x1="674.8" y1="12.3" x2="674.8" y2="14.3" stroke="#5a5a5a" stroke-width="0.8"/>
<line x1="674.8" y1="135.5" x2="674.8" y2="137.5" stroke="#5a5a5a" stroke-width="0.8"/>
<line x1="488.4" y1="135.81" x2="490.4" y2="135.81" stroke="#5a5a5a" stroke-width="0.8"/>
<line x1="674.8" y1="135.81" x2="676" y2="135.81" stroke="#5a5a5a" stroke-width="0.8"/>
<line x1="488.4" y1="129.43" x2="490.4" y2="129.43" stroke="#5a5a5a" stroke-width="0.8"/>
<line x1="674.8" y1="129.43" x2="676" y2="129.43" stroke="#5a5a5a" stroke-width="0.8"/>
<line x1="488.4" y1="123.05" x2="490.4" y2="123.05" stroke="#5a5a5a" stroke-width="0.8"/>
<line x1="674.8" y1="123.05" x2="676" y2="123.05" stroke="#5a5a5a" stroke-width="0.8"/>
<line x1="488.4" y1="116.67" x2="490.4" y2="116.67" stroke="#5a5a5a" stroke-width="0.8"/>
<line x1="674.8" y1="116.67" x2="676" y2="116.67" stroke="#5a5a5a" stroke-width="0.8"/>
<line x1="488.4" y1="110.3" x2="490.4" y2="110.3" stroke="#5a5a5a" stroke-width="0.8"/>
<line x1="674.8" y1="110.3" x2="676" y2="110.3" stroke="#5a5a5a" stroke-width="0.8"/>
<line x1="488.4" y1="103.92" x2="490.4" y2="103.92" stroke="#5a5a5a" stroke-width="0.8"/>
<line x1="674.8" y1="103.92" x2="676" y2="103.92" stroke="#5a5a5a" stroke-width="0.8"/>
<line x1="488.4" y1="97.54" x2="490.4" y2="97.54" stroke="#5a5a5a" stroke-width="0.8"/>
<line x1="674.8" y1="97.54" x2="676" y2="97.54" stroke="#5a5a5a" stroke-width="0.8"/>
<line x1="488.4" y1="91.16" x2="490.4" y2="91.16" stroke="#5a5a5a" stroke-width="0.8"/>
<line x1="674.8" y1="91.16" x2="676" y2="91.16" stroke="#5a5a5a" stroke-width="0.8"/>
<line x1="488.4" y1="84.78" x2="490.4" y2="84.78" stroke="#5a5a5a" stroke-width="0.8"/>
<line x1="674.8" y1="84.78" x2="676" y2="84.78" stroke="#5a5a5a" stroke-width="0.8"/>
<line x1="488.4" y1="78.4" x2="490.4" y2="78.4" stroke="#5a5a5a" stroke-width="0.8"/>
<line x1="674.8" y1="78.4" x2="676" y2="78.4" stroke="#5a5a5a" stroke-width="0.8"/>
<line x1="488.4" y1="72.02" x2="490.4" y2="72.02" stroke="#5a5a5a" stroke-width="0.8"/>
<line x1="674.8" y1="72.02" x2="676" y2="72.02" stroke="#5a5a5a" stroke-width="0.8"/>
<line x1="488.4" y1="65.64" x2="490.4" y2="65.64" stroke="#5a5a5a" stroke-width="0.8"/>
<line x1="674.8" y1="65.64" x2="676" y2="65.64" stroke="#5a5a5a" stroke-width="0.8"/>
<line x1="488.4" y1="59.26" x2="490.4" y2="59.26" stroke="#5a5a5a" stroke-width="0.8"/>
<line x1="674.8" y1="59.26" x2="676" y2="59.26" stroke="#5a5a5a" stroke-width="0.8"/>
<line x1="488.4" y1="52.88" x2="490.4" y2="52.88" stroke="#5a5a5a" stroke-width="0.8"/>
<line x1="674.8" y1="52.88" x2="676" y2="52.88" stroke="#5a5a5a" stroke-width="0.8"/>
<line x1="488.4" y1="46.51" x2="490.4" y2="46.51" stroke="#5a5a5a" stroke-width="0.8"/>
<line x1="674.8" y1="46.51" x2="676" y2="46.51" stroke="#5a5a5a" stroke-width="0.8"/>
<line x1="488.4" y1="40.13" x2="490.4" y2="40.13" stroke="#5a5a5a" stroke-width="0.8"/>
<line x1="674.8" y1="40.13" x2="676" y2="40.13" stroke="#5a5a5a" stroke-width="0.8"/>
<line x1="488.4" y1="33.75" x2="490.4" y2="33.75" stroke="#5a5a5a" stroke-width="0.8"/>
<line x1="674.8" y1="33.75" x2="676" y2="33.75" stroke="#5a5a5a" stroke-width="0.8"/>
<line x1="488.4" y1="27.37" x2="490.4" y2="27.37" stroke="#5a5a5a" stroke-width="0.8"/>
<line x1="674.8" y1="27.37" x2="676" y2="27.37" stroke="#5a5a5a" stroke-width="0.8"/>
<line x1="488.4" y1="20.99" x2="490.4" y2="20.99" stroke="#5a5a5a" stroke-width="0.8"/>
<line x1="674.8" y1="20.99" x2="676" y2="20.99" stroke="#5a5a5a" stroke-width="0.8"/>
<line x1="488.4" y1="14.61" x2="490.4" y2="14.61" stroke="#5a5a5a" stroke-width="0.8"/>
<line x1="674.8" y1="14.61" x2="676" y2="14.61" stroke="#5a5a5a" stroke-width="0.8"/>
<text x="485.8" y="17.91" font-size="9.1" font-family="Liberation Sans" fill="#3a3a3a" text-anchor="end">100</text>
<text x="485.8" y="49.81" font-size="9.1" font-family="Liberation Sans" fill="#3a3a3a" text-anchor="end">50</text>
<text x="485.8" y="81.7" font-size="9.1" font-family="Liberation Sans" fill="#3a3a3a" text-anchor="end">0</text>
<text x="485.8" y="113.59" font-size="9.1" font-family="Liberation Sans" fill="#3a3a3a" text-anchor="end">-50</text>
<text x="490.4" y="148.6" font-size="9" font-family="Liberation Sans" fill="#3a3a3a" text-anchor="middle">1545</text>
<text x="582.6" y="148.6" font-size="9" font-family="Liberation Sans" fill="#3a3a3a" text-anchor="middle">1550</text>
<text x="674.8" y="148.6" font-size="9" font-family="Liberation Sans" fill="#3a3a3a" text-anchor="middle">1555</text>
<text x="282.2" y="25.2" font-size="8" font-family="Liberation Sans" fill="#1a1a1a" stroke="#1a1a1a" stroke-width="0.15"><tspan font-family="Liberation Serif" font-style="italic" font-weight="bold" font-size="8.4">Δ<tspan dx="0.8">f</tspan></tspan><tspan font-size="5.2" dy="1.6" font-weight="bold" dx="0.9">m</tspan><tspan dy="-1.6" font-size="7.4" font-weight="bold" dx="0.3"> [MHz]</tspan></text>
<line x1="285.6" y1="35" x2="300.3" y2="35" stroke="#d9473f" stroke-width="1.5"/>
<text x="302.5" y="37.7" font-size="7.5" font-family="Liberation Sans" fill="#111" font-weight="bold" stroke="#111" stroke-width="0.2">-10</text>
<line x1="285.6" y1="64.1" x2="300.3" y2="64.1" stroke="#dd8a2c" stroke-width="1.5"/>
<text x="302.5" y="66.8" font-size="7.5" font-family="Liberation Sans" fill="#111" font-weight="bold" stroke="#111" stroke-width="0.2">30</text>
<line x1="285.6" y1="98.9" x2="300.3" y2="98.9" stroke="#2faa6b" stroke-width="1.5"/>
<text x="302.5" y="101.6" font-size="7.5" font-family="Liberation Sans" fill="#111" font-weight="bold" stroke="#111" stroke-width="0.2">70</text>
<line x1="285.6" y1="123" x2="300.3" y2="123" stroke="#36769c" stroke-width="1.5"/>
<text x="302.5" y="125.7" font-size="7.5" font-family="Liberation Sans" fill="#111" font-weight="bold" stroke="#111" stroke-width="0.2">110</text>
<text x="493.3" y="25.6" font-size="8" font-family="Liberation Sans" fill="#1a1a1a" stroke="#1a1a1a" stroke-width="0.15"><tspan font-family="Liberation Serif" font-style="italic" font-weight="bold" font-size="8.4">Δ<tspan dx="0.8">f</tspan></tspan><tspan font-size="5.2" dy="1.6" font-weight="bold" dx="0.9">m</tspan><tspan dy="-1.6" font-size="7.4" font-weight="bold" dx="0.3"> [MHz]</tspan></text>
<line x1="497" y1="35.3" x2="512" y2="35.3" stroke="#d9473f" stroke-width="1.5"/>
<text x="516.4" y="38" font-size="7.5" font-family="Liberation Sans" fill="#111" font-weight="bold" stroke="#111" stroke-width="0.2">10</text>
<line x1="497" y1="65.1" x2="512" y2="65.1" stroke="#dd8a2c" stroke-width="1.5"/>
<text x="516.4" y="67.8" font-size="7.5" font-family="Liberation Sans" fill="#111" font-weight="bold" stroke="#111" stroke-width="0.2">50</text>
<line x1="497" y1="99.6" x2="512" y2="99.6" stroke="#2faa6b" stroke-width="1.5"/>
<text x="516.4" y="102.3" font-size="7.5" font-family="Liberation Sans" fill="#111" font-weight="bold" stroke="#111" stroke-width="0.2">90</text>
<line x1="497" y1="123" x2="512" y2="123" stroke="#36769c" stroke-width="1.5"/>
<text x="516.4" y="125.7" font-size="7.5" font-family="Liberation Sans" fill="#111" font-weight="bold" stroke="#111" stroke-width="0.2">130</text>
<text x="388.7" y="25.6" font-size="11" font-family="Liberation Serif" fill="#111" font-weight="bold" stroke="#111" stroke-width="0.35">@<tspan font-style="italic">λ</tspan> = 1530 <tspan font-style="italic">nm</tspan></text>
<text x="599.9" y="26.3" font-size="11" font-family="Liberation Serif" fill="#111" font-weight="bold" stroke="#111" stroke-width="0.35">@<tspan font-style="italic">λ</tspan> = 1550 <tspan font-style="italic">nm</tspan></text>
<text x="253.6" y="76" font-size="9.45" font-family="Liberation Sans" fill="#1a1a1a" text-anchor="middle" transform="rotate(-90 253.6 76)" stroke="#1a1a1a" stroke-width="0.15"><tspan font-style="italic" font-family="Liberation Serif" font-size="11">P</tspan><tspan font-size="6.6" dy="1.5">o</tspan><tspan dy="-1.5"> [dB], 40 dB offset</tspan></text>
<text x="243.5" y="12.9" font-size="14" font-family="Liberation Sans" fill="#000" font-weight="bold">d</text>
<text x="457.9" y="9.5" font-size="14" font-family="Liberation Sans" fill="#000" font-weight="bold">e</text>
<rect x="277" y="158.5" width="183.8" height="19.62" fill="#e5e5e5"/>
<rect x="277" y="259.88" width="183.8" height="19.32" fill="#e5e5e5"/>
<line x1="277" y1="164.5" x2="460.8" y2="164.5" stroke="#000" stroke-width="0.9" stroke-opacity="0.08"/>
<line x1="277" y1="191.75" x2="460.8" y2="191.75" stroke="#000" stroke-width="0.9" stroke-opacity="0.08"/>
<line x1="277" y1="219" x2="460.8" y2="219" stroke="#000" stroke-width="0.9" stroke-opacity="0.08"/>
<line x1="277" y1="246.25" x2="460.8" y2="246.25" stroke="#000" stroke-width="0.9" stroke-opacity="0.08"/>
<line x1="277" y1="273.5" x2="460.8" y2="273.5" stroke="#000" stroke-width="0.9" stroke-opacity="0.08"/>
<line x1="368.9" y1="158.5" x2="368.9" y2="279.2" stroke="#000" stroke-width="0.9" stroke-opacity="0.1"/>
<circle cx="278.25" cy="209.12" r="0.95" fill="#d63c36"/>
<circle cx="280.1" cy="208.68" r="0.95" fill="#d63c36"/>
<circle cx="281.95" cy="208.57" r="0.95" fill="#d63c36"/>
<circle cx="283.8" cy="210.79" r="0.95" fill="#d63c36"/>
<circle cx="285.65" cy="209.19" r="0.95" fill="#d63c36"/>
<circle cx="287.5" cy="208.53" r="0.95" fill="#d63c36"/>
<circle cx="289.35" cy="210.45" r="0.95" fill="#d63c36"/>
<circle cx="291.2" cy="210.79" r="0.95" fill="#d63c36"/>
<circle cx="293.05" cy="209.08" r="0.95" fill="#d63c36"/>
<circle cx="294.9" cy="211.86" r="0.95" fill="#d63c36"/>
<circle cx="296.75" cy="211.11" r="0.95" fill="#d63c36"/>
<circle cx="298.6" cy="209.57" r="0.95" fill="#d63c36"/>
<circle cx="300.45" cy="212" r="0.95" fill="#d63c36"/>
<circle cx="302.3" cy="211.25" r="0.95" fill="#d63c36"/>
<circle cx="304.15" cy="210.59" r="0.95" fill="#d63c36"/>
<circle cx="306" cy="213.36" r="0.95" fill="#d63c36"/>
<circle cx="307.85" cy="211.14" r="0.95" fill="#d63c36"/>
<circle cx="309.7" cy="210.43" r="0.95" fill="#d63c36"/>
<circle cx="311.55" cy="213.81" r="0.95" fill="#d63c36"/>
<circle cx="313.4" cy="212.26" r="0.95" fill="#d63c36"/>
<circle cx="315.25" cy="211.31" r="0.95" fill="#d63c36"/>
<circle cx="317.1" cy="213.28" r="0.95" fill="#d63c36"/>
<circle cx="318.95" cy="212.76" r="0.95" fill="#d63c36"/>
<circle cx="320.8" cy="213.25" r="0.95" fill="#d63c36"/>
<circle cx="322.65" cy="213.65" r="0.95" fill="#d63c36"/>
<circle cx="324.5" cy="213.09" r="0.95" fill="#d63c36"/>
<circle cx="326.35" cy="213.18" r="0.95" fill="#d63c36"/>
<circle cx="328.2" cy="214.86" r="0.95" fill="#d63c36"/>
<circle cx="330.05" cy="215.02" r="0.95" fill="#d63c36"/>
<circle cx="331.9" cy="214.26" r="0.95" fill="#d63c36"/>
<circle cx="333.75" cy="215.14" r="0.95" fill="#d63c36"/>
<circle cx="335.6" cy="214.3" r="0.95" fill="#d63c36"/>
<circle cx="337.45" cy="214.89" r="0.95" fill="#d63c36"/>
<circle cx="339.3" cy="216.92" r="0.95" fill="#d63c36"/>
<circle cx="341.15" cy="214.64" r="0.95" fill="#d63c36"/>
<circle cx="343" cy="215.36" r="0.95" fill="#d63c36"/>
<circle cx="344.85" cy="217.36" r="0.95" fill="#d63c36"/>
<circle cx="346.7" cy="216.42" r="0.95" fill="#d63c36"/>
<circle cx="348.55" cy="215.1" r="0.95" fill="#d63c36"/>
<circle cx="350.4" cy="217.91" r="0.95" fill="#d63c36"/>
<circle cx="352.25" cy="217.25" r="0.95" fill="#d63c36"/>
<circle cx="354.1" cy="215.75" r="0.95" fill="#d63c36"/>
<circle cx="355.95" cy="218.33" r="0.95" fill="#d63c36"/>
<circle cx="357.8" cy="217.03" r="0.95" fill="#d63c36"/>
<circle cx="359.65" cy="216.18" r="0.95" fill="#d63c36"/>
<circle cx="361.5" cy="218.49" r="0.95" fill="#d63c36"/>
<circle cx="363.35" cy="217.96" r="0.95" fill="#d63c36"/>
<circle cx="365.2" cy="217.55" r="0.95" fill="#d63c36"/>
<circle cx="367.05" cy="219.79" r="0.95" fill="#d63c36"/>
<circle cx="368.9" cy="219.61" r="0.95" fill="#d63c36"/>
<circle cx="370.75" cy="219.44" r="0.95" fill="#d63c36"/>
<circle cx="372.6" cy="221.39" r="0.95" fill="#d63c36"/>
<circle cx="374.45" cy="221.03" r="0.95" fill="#d63c36"/>
<circle cx="376.3" cy="220.27" r="0.95" fill="#d63c36"/>
<circle cx="378.15" cy="221.32" r="0.95" fill="#d63c36"/>
<circle cx="380" cy="220.69" r="0.95" fill="#d63c36"/>
<circle cx="381.85" cy="221.11" r="0.95" fill="#d63c36"/>
<circle cx="383.7" cy="222.89" r="0.95" fill="#d63c36"/>
<circle cx="385.55" cy="222.73" r="0.95" fill="#d63c36"/>
<circle cx="387.4" cy="221.29" r="0.95" fill="#d63c36"/>
<circle cx="389.25" cy="223.39" r="0.95" fill="#d63c36"/>
<circle cx="391.1" cy="224.31" r="0.95" fill="#d63c36"/>
<circle cx="392.95" cy="223.34" r="0.95" fill="#d63c36"/>
<circle cx="394.8" cy="225.43" r="0.95" fill="#d63c36"/>
<circle cx="396.65" cy="223.96" r="0.95" fill="#d63c36"/>
<circle cx="398.5" cy="224.12" r="0.95" fill="#d63c36"/>
<circle cx="400.35" cy="226.96" r="0.95" fill="#d63c36"/>
<circle cx="402.2" cy="226.1" r="0.95" fill="#d63c36"/>
<circle cx="404.05" cy="226.32" r="0.95" fill="#d63c36"/>
<circle cx="405.9" cy="226.81" r="0.95" fill="#d63c36"/>
<circle cx="407.75" cy="226.88" r="0.95" fill="#d63c36"/>
<circle cx="409.6" cy="227.11" r="0.95" fill="#d63c36"/>
<circle cx="411.45" cy="228.39" r="0.95" fill="#d63c36"/>
<circle cx="413.3" cy="228.62" r="0.95" fill="#d63c36"/>
<circle cx="415.15" cy="227.82" r="0.95" fill="#d63c36"/>
<circle cx="417" cy="228.94" r="0.95" fill="#d63c36"/>
<circle cx="418.85" cy="228.52" r="0.95" fill="#d63c36"/>
<circle cx="420.7" cy="229.72" r="0.95" fill="#d63c36"/>
<circle cx="422.55" cy="230.08" r="0.95" fill="#d63c36"/>
<circle cx="424.4" cy="229.83" r="0.95" fill="#d63c36"/>
<circle cx="426.25" cy="229.69" r="0.95" fill="#d63c36"/>
<circle cx="428.1" cy="232.29" r="0.95" fill="#d63c36"/>
<circle cx="429.95" cy="232.15" r="0.95" fill="#d63c36"/>
<circle cx="431.8" cy="231.08" r="0.95" fill="#d63c36"/>
<circle cx="433.65" cy="233.04" r="0.95" fill="#d63c36"/>
<circle cx="435.5" cy="233.17" r="0.95" fill="#d63c36"/>
<circle cx="437.35" cy="231.86" r="0.95" fill="#d63c36"/>
<circle cx="439.2" cy="233.95" r="0.95" fill="#d63c36"/>
<circle cx="441.05" cy="233.99" r="0.95" fill="#d63c36"/>
<circle cx="442.9" cy="233.65" r="0.95" fill="#d63c36"/>
<circle cx="444.75" cy="234.49" r="0.95" fill="#d63c36"/>
<circle cx="446.6" cy="234.23" r="0.95" fill="#d63c36"/>
<circle cx="448.45" cy="233.89" r="0.95" fill="#d63c36"/>
<circle cx="450.3" cy="236.86" r="0.95" fill="#d63c36"/>
<circle cx="452.15" cy="236.41" r="0.95" fill="#d63c36"/>
<circle cx="454" cy="236.53" r="0.95" fill="#d63c36"/>
<circle cx="455.85" cy="238.08" r="0.95" fill="#d63c36"/>
<circle cx="457.7" cy="236.76" r="0.95" fill="#d63c36"/>
<circle cx="459.55" cy="237.29" r="0.95" fill="#d63c36"/>
<circle cx="278.25" cy="263.31" r="0.95" fill="#e08a2a" fill-opacity="0.45"/>
<circle cx="280.1" cy="261.83" r="0.95" fill="#e08a2a" fill-opacity="0.45"/>
<circle cx="281.95" cy="260.28" r="0.95" fill="#e08a2a" fill-opacity="0.45"/>
<circle cx="283.8" cy="261.94" r="0.95" fill="#e08a2a" fill-opacity="0.45"/>
<circle cx="285.65" cy="259.5" r="0.95" fill="#e08a2a" fill-opacity="0.45"/>
<circle cx="287.5" cy="258.19" r="0.95" fill="#e08a2a"/>
<circle cx="289.35" cy="257.68" r="0.95" fill="#e08a2a"/>
<circle cx="291.2" cy="256.7" r="0.95" fill="#e08a2a"/>
<circle cx="293.05" cy="255.6" r="0.95" fill="#e08a2a"/>
<circle cx="294.9" cy="255.63" r="0.95" fill="#e08a2a"/>
<circle cx="296.75" cy="254.69" r="0.95" fill="#e08a2a"/>
<circle cx="298.6" cy="252.87" r="0.95" fill="#e08a2a"/>
<circle cx="300.45" cy="252.56" r="0.95" fill="#e08a2a"/>
<circle cx="302.3" cy="250.2" r="0.95" fill="#e08a2a"/>
<circle cx="304.15" cy="249.86" r="0.95" fill="#e08a2a"/>
<circle cx="306" cy="249.35" r="0.95" fill="#e08a2a"/>
<circle cx="307.85" cy="247.44" r="0.95" fill="#e08a2a"/>
<circle cx="309.7" cy="247.05" r="0.95" fill="#e08a2a"/>
<circle cx="311.55" cy="247.88" r="0.95" fill="#e08a2a"/>
<circle cx="313.4" cy="246.18" r="0.95" fill="#e08a2a"/>
<circle cx="315.25" cy="244.71" r="0.95" fill="#e08a2a"/>
<circle cx="317.1" cy="243.98" r="0.95" fill="#e08a2a"/>
<circle cx="318.95" cy="242.09" r="0.95" fill="#e08a2a"/>
<circle cx="320.8" cy="240.48" r="0.95" fill="#e08a2a"/>
<circle cx="322.65" cy="242.66" r="0.95" fill="#e08a2a"/>
<circle cx="324.5" cy="239.42" r="0.95" fill="#e08a2a"/>
<circle cx="326.35" cy="237.84" r="0.95" fill="#e08a2a"/>
<circle cx="328.2" cy="238.23" r="0.95" fill="#e08a2a"/>
<circle cx="330.05" cy="236.61" r="0.95" fill="#e08a2a"/>
<circle cx="331.9" cy="234.92" r="0.95" fill="#e08a2a"/>
<circle cx="333.75" cy="236.14" r="0.95" fill="#e08a2a"/>
<circle cx="335.6" cy="234.13" r="0.95" fill="#e08a2a"/>
<circle cx="337.45" cy="232.74" r="0.95" fill="#e08a2a"/>
<circle cx="339.3" cy="234.5" r="0.95" fill="#e08a2a"/>
<circle cx="341.15" cy="231.47" r="0.95" fill="#e08a2a"/>
<circle cx="343" cy="230.98" r="0.95" fill="#e08a2a"/>
<circle cx="344.85" cy="231.5" r="0.95" fill="#e08a2a"/>
<circle cx="346.7" cy="229.55" r="0.95" fill="#e08a2a"/>
<circle cx="348.55" cy="227.91" r="0.95" fill="#e08a2a"/>
<circle cx="350.4" cy="228.92" r="0.95" fill="#e08a2a"/>
<circle cx="352.25" cy="226.95" r="0.95" fill="#e08a2a"/>
<circle cx="354.1" cy="224.66" r="0.95" fill="#e08a2a"/>
<circle cx="355.95" cy="225.51" r="0.95" fill="#e08a2a"/>
<circle cx="357.8" cy="223.72" r="0.95" fill="#e08a2a"/>
<circle cx="359.65" cy="222.36" r="0.95" fill="#e08a2a"/>
<circle cx="361.5" cy="224.09" r="0.95" fill="#e08a2a"/>
<circle cx="363.35" cy="221.45" r="0.95" fill="#e08a2a"/>
<circle cx="365.2" cy="219.17" r="0.95" fill="#e08a2a"/>
<circle cx="367.05" cy="220.59" r="0.95" fill="#e08a2a"/>
<circle cx="368.9" cy="219.56" r="0.95" fill="#e08a2a"/>
<circle cx="370.75" cy="217.28" r="0.95" fill="#e08a2a"/>
<circle cx="372.6" cy="218.42" r="0.95" fill="#e08a2a"/>
<circle cx="374.45" cy="215.7" r="0.95" fill="#e08a2a"/>
<circle cx="376.3" cy="214.03" r="0.95" fill="#e08a2a"/>
<circle cx="378.15" cy="215.8" r="0.95" fill="#e08a2a"/>
<circle cx="380" cy="213.08" r="0.95" fill="#e08a2a"/>
<circle cx="381.85" cy="211.92" r="0.95" fill="#e08a2a"/>
<circle cx="383.7" cy="212.77" r="0.95" fill="#e08a2a"/>
<circle cx="385.55" cy="210.81" r="0.95" fill="#e08a2a"/>
<circle cx="387.4" cy="208.92" r="0.95" fill="#e08a2a"/>
<circle cx="389.25" cy="209.57" r="0.95" fill="#e08a2a"/>
<circle cx="391.1" cy="209.67" r="0.95" fill="#e08a2a"/>
<circle cx="392.95" cy="207.59" r="0.95" fill="#e08a2a"/>
<circle cx="394.8" cy="208.77" r="0.95" fill="#e08a2a"/>
<circle cx="396.65" cy="206.34" r="0.95" fill="#e08a2a"/>
<circle cx="398.5" cy="205.58" r="0.95" fill="#e08a2a"/>
<circle cx="400.35" cy="206.13" r="0.95" fill="#e08a2a"/>
<circle cx="402.2" cy="204.1" r="0.95" fill="#e08a2a"/>
<circle cx="404.05" cy="202.34" r="0.95" fill="#e08a2a"/>
<circle cx="405.9" cy="203.03" r="0.95" fill="#e08a2a"/>
<circle cx="407.75" cy="200.93" r="0.95" fill="#e08a2a"/>
<circle cx="409.6" cy="199.61" r="0.95" fill="#e08a2a"/>
<circle cx="411.45" cy="200.96" r="0.95" fill="#e08a2a"/>
<circle cx="413.3" cy="198.43" r="0.95" fill="#e08a2a"/>
<circle cx="415.15" cy="198.03" r="0.95" fill="#e08a2a"/>
<circle cx="417" cy="198.15" r="0.95" fill="#e08a2a"/>
<circle cx="418.85" cy="196.74" r="0.95" fill="#e08a2a"/>
<circle cx="420.7" cy="195.56" r="0.95" fill="#e08a2a"/>
<circle cx="422.55" cy="195.98" r="0.95" fill="#e08a2a"/>
<circle cx="424.4" cy="193.5" r="0.95" fill="#e08a2a"/>
<circle cx="426.25" cy="192.13" r="0.95" fill="#e08a2a"/>
<circle cx="428.1" cy="192.43" r="0.95" fill="#e08a2a"/>
<circle cx="429.95" cy="190.91" r="0.95" fill="#e08a2a"/>
<circle cx="431.8" cy="191.01" r="0.95" fill="#e08a2a"/>
<circle cx="433.65" cy="191.11" r="0.95" fill="#e08a2a"/>
<circle cx="435.5" cy="190.23" r="0.95" fill="#e08a2a"/>
<circle cx="437.35" cy="188.33" r="0.95" fill="#e08a2a"/>
<circle cx="439.2" cy="188.25" r="0.95" fill="#e08a2a"/>
<circle cx="441.05" cy="187.87" r="0.95" fill="#e08a2a"/>
<circle cx="442.9" cy="186.24" r="0.95" fill="#e08a2a"/>
<circle cx="444.75" cy="186.16" r="0.95" fill="#e08a2a"/>
<circle cx="446.6" cy="183.94" r="0.95" fill="#e08a2a"/>
<circle cx="448.45" cy="182.82" r="0.95" fill="#e08a2a"/>
<circle cx="450.3" cy="183.31" r="0.95" fill="#e08a2a"/>
<circle cx="452.15" cy="182.13" r="0.95" fill="#e08a2a"/>
<circle cx="454" cy="180.08" r="0.95" fill="#e08a2a"/>
<circle cx="455.85" cy="181.99" r="0.95" fill="#e08a2a"/>
<circle cx="457.7" cy="180.93" r="0.95" fill="#e08a2a"/>
<circle cx="459.55" cy="178.01" r="0.95" fill="#e08a2a" fill-opacity="0.45"/>
<circle cx="313.4" cy="278.19" r="0.95" fill="#22a35e" fill-opacity="0.45"/>
<circle cx="315.25" cy="276.22" r="0.95" fill="#22a35e" fill-opacity="0.45"/>
<circle cx="317.1" cy="275.66" r="0.95" fill="#22a35e" fill-opacity="0.45"/>
<circle cx="318.95" cy="272.65" r="0.95" fill="#22a35e" fill-opacity="0.45"/>
<circle cx="320.8" cy="270.68" r="0.95" fill="#22a35e" fill-opacity="0.45"/>
<circle cx="322.65" cy="269.41" r="0.95" fill="#22a35e" fill-opacity="0.45"/>
<circle cx="324.5" cy="266.47" r="0.95" fill="#22a35e" fill-opacity="0.45"/>
<circle cx="326.35" cy="264.57" r="0.95" fill="#22a35e" fill-opacity="0.45"/>
<circle cx="328.2" cy="263.54" r="0.95" fill="#22a35e" fill-opacity="0.45"/>
<circle cx="330.05" cy="260.16" r="0.95" fill="#22a35e" fill-opacity="0.45"/>
<circle cx="331.9" cy="257.39" r="0.95" fill="#22a35e" fill-opacity="0.45"/>
<circle cx="333.75" cy="257.26" r="0.95" fill="#22a35e"/>
<circle cx="335.6" cy="253.69" r="0.95" fill="#22a35e"/>
<circle cx="337.45" cy="251.92" r="0.95" fill="#22a35e"/>
<circle cx="339.3" cy="251.7" r="0.95" fill="#22a35e"/>
<circle cx="341.15" cy="248.37" r="0.95" fill="#22a35e"/>
<circle cx="343" cy="246.37" r="0.95" fill="#22a35e"/>
<circle cx="344.85" cy="246.07" r="0.95" fill="#22a35e"/>
<circle cx="346.7" cy="242.65" r="0.95" fill="#22a35e"/>
<circle cx="348.55" cy="240.12" r="0.95" fill="#22a35e"/>
<circle cx="350.4" cy="238.67" r="0.95" fill="#22a35e"/>
<circle cx="352.25" cy="235.82" r="0.95" fill="#22a35e"/>
<circle cx="354.1" cy="234.74" r="0.95" fill="#22a35e"/>
<circle cx="355.95" cy="233.06" r="0.95" fill="#22a35e"/>
<circle cx="357.8" cy="230.2" r="0.95" fill="#22a35e"/>
<circle cx="359.65" cy="228.7" r="0.95" fill="#22a35e"/>
<circle cx="361.5" cy="228.02" r="0.95" fill="#22a35e"/>
<circle cx="363.35" cy="224.16" r="0.95" fill="#22a35e"/>
<circle cx="365.2" cy="221.8" r="0.95" fill="#22a35e"/>
<circle cx="367.05" cy="221.25" r="0.95" fill="#22a35e"/>
<circle cx="368.9" cy="218.59" r="0.95" fill="#22a35e"/>
<circle cx="370.75" cy="215.4" r="0.95" fill="#22a35e"/>
<circle cx="372.6" cy="215.94" r="0.95" fill="#22a35e"/>
<circle cx="374.45" cy="212.84" r="0.95" fill="#22a35e"/>
<circle cx="376.3" cy="210.3" r="0.95" fill="#22a35e"/>
<circle cx="378.15" cy="209.53" r="0.95" fill="#22a35e"/>
<circle cx="380" cy="206.7" r="0.95" fill="#22a35e"/>
<circle cx="381.85" cy="203.87" r="0.95" fill="#22a35e"/>
<circle cx="383.7" cy="205.01" r="0.95" fill="#22a35e"/>
<circle cx="385.55" cy="202.1" r="0.95" fill="#22a35e"/>
<circle cx="387.4" cy="199.08" r="0.95" fill="#22a35e"/>
<circle cx="389.25" cy="197.92" r="0.95" fill="#22a35e"/>
<circle cx="391.1" cy="195.29" r="0.95" fill="#22a35e"/>
<circle cx="392.95" cy="192.57" r="0.95" fill="#22a35e"/>
<circle cx="394.8" cy="192.57" r="0.95" fill="#22a35e"/>
<circle cx="396.65" cy="189.44" r="0.95" fill="#22a35e"/>
<circle cx="398.5" cy="187.17" r="0.95" fill="#22a35e"/>
<circle cx="400.35" cy="186.69" r="0.95" fill="#22a35e"/>
<circle cx="402.2" cy="184.01" r="0.95" fill="#22a35e"/>
<circle cx="404.05" cy="182.19" r="0.95" fill="#22a35e"/>
<circle cx="405.9" cy="181.5" r="0.95" fill="#22a35e"/>
<circle cx="407.75" cy="178.88" r="0.95" fill="#22a35e" fill-opacity="0.45"/>
<circle cx="409.6" cy="176.03" r="0.95" fill="#22a35e" fill-opacity="0.45"/>
<circle cx="411.45" cy="176.03" r="0.95" fill="#22a35e" fill-opacity="0.45"/>
<circle cx="413.3" cy="173.84" r="0.95" fill="#22a35e" fill-opacity="0.45"/>
<circle cx="415.15" cy="170.35" r="0.95" fill="#22a35e" fill-opacity="0.45"/>
<circle cx="417" cy="169.6" r="0.95" fill="#22a35e" fill-opacity="0.45"/>
<circle cx="418.85" cy="167.72" r="0.95" fill="#22a35e" fill-opacity="0.45"/>
<circle cx="420.7" cy="164.91" r="0.95" fill="#22a35e" fill-opacity="0.45"/>
<circle cx="422.55" cy="165.32" r="0.95" fill="#22a35e" fill-opacity="0.45"/>
<circle cx="424.4" cy="161.5" r="0.95" fill="#22a35e" fill-opacity="0.45"/>
<circle cx="426.25" cy="160.26" r="0.95" fill="#22a35e" fill-opacity="0.45"/>
<circle cx="341.15" cy="271.13" r="0.95" fill="#2f86c0" fill-opacity="0.35"/>
<circle cx="343" cy="266.95" r="0.95" fill="#2f86c0" fill-opacity="0.35"/>
<circle cx="344.85" cy="263.14" r="0.95" fill="#2f86c0"/>
<circle cx="346.7" cy="261.29" r="0.95" fill="#2f86c0"/>
<circle cx="348.55" cy="257.02" r="0.95" fill="#2f86c0"/>
<circle cx="350.4" cy="251.85" r="0.95" fill="#2f86c0"/>
<circle cx="352.25" cy="251" r="0.95" fill="#2f86c0"/>
<circle cx="354.1" cy="245.85" r="0.95" fill="#2f86c0"/>
<circle cx="355.95" cy="241.45" r="0.95" fill="#2f86c0"/>
<circle cx="357.8" cy="239.2" r="0.95" fill="#2f86c0"/>
<circle cx="359.65" cy="235.78" r="0.95" fill="#2f86c0"/>
<circle cx="361.5" cy="230.99" r="0.95" fill="#2f86c0"/>
<circle cx="363.35" cy="229.38" r="0.95" fill="#2f86c0"/>
<circle cx="365.2" cy="225.86" r="0.95" fill="#2f86c0"/>
<circle cx="367.05" cy="222.05" r="0.95" fill="#2f86c0"/>
<circle cx="368.9" cy="220.22" r="0.95" fill="#2f86c0"/>
<circle cx="370.75" cy="214.94" r="0.95" fill="#2f86c0"/>
<circle cx="372.6" cy="210.83" r="0.95" fill="#2f86c0"/>
<circle cx="374.45" cy="209.43" r="0.95" fill="#2f86c0"/>
<circle cx="376.3" cy="205.93" r="0.95" fill="#2f86c0"/>
<circle cx="378.15" cy="202.41" r="0.95" fill="#2f86c0"/>
<circle cx="380" cy="200.64" r="0.95" fill="#2f86c0"/>
<circle cx="381.85" cy="196.88" r="0.95" fill="#2f86c0"/>
<circle cx="383.7" cy="192.27" r="0.95" fill="#2f86c0"/>
<circle cx="385.55" cy="190.69" r="0.95" fill="#2f86c0"/>
<circle cx="387.4" cy="186.11" r="0.95" fill="#2f86c0"/>
<circle cx="389.25" cy="182.21" r="0.95" fill="#2f86c0"/>
<circle cx="391.1" cy="180.39" r="0.95" fill="#2f86c0"/>
<circle cx="392.95" cy="177.06" r="0.95" fill="#2f86c0" fill-opacity="0.35"/>
<circle cx="394.8" cy="173.29" r="0.95" fill="#2f86c0" fill-opacity="0.35"/>
<circle cx="396.65" cy="171.64" r="0.95" fill="#2f86c0" fill-opacity="0.35"/>
<circle cx="398.5" cy="167.44" r="0.95" fill="#2f86c0" fill-opacity="0.35"/>
<circle cx="400.35" cy="163.63" r="0.95" fill="#2f86c0" fill-opacity="0.35"/>
<circle cx="402.2" cy="161.77" r="0.95" fill="#2f86c0" fill-opacity="0.35"/>
<circle cx="404.05" cy="158.95" r="0.95" fill="#2f86c0" fill-opacity="0.35"/>
<line x1="277" y1="158.5" x2="277" y2="279.2" stroke="#a6a6a6" stroke-width="1.4"/>
<line x1="460.8" y1="158.5" x2="460.8" y2="279.2" stroke="#a6a6a6" stroke-width="1.4"/>
<line x1="276.3" y1="158.5" x2="461.5" y2="158.5" stroke="#808080" stroke-width="1.6"/>
<line x1="276.3" y1="279.2" x2="461.5" y2="279.2" stroke="#4d4d4d" stroke-width="1"/>
<line x1="277" y1="156.5" x2="277" y2="158.5" stroke="#5a5a5a" stroke-width="0.8"/>
<line x1="277" y1="279.2" x2="277" y2="281.2" stroke="#5a5a5a" stroke-width="0.8"/>
<line x1="295.38" y1="156.5" x2="295.38" y2="158.5" stroke="#5a5a5a" stroke-width="0.8"/>
<line x1="295.38" y1="279.2" x2="295.38" y2="281.2" stroke="#5a5a5a" stroke-width="0.8"/>
<line x1="313.76" y1="156.5" x2="313.76" y2="158.5" stroke="#5a5a5a" stroke-width="0.8"/>
<line x1="313.76" y1="279.2" x2="313.76" y2="281.2" stroke="#5a5a5a" stroke-width="0.8"/>
<line x1="332.14" y1="156.5" x2="332.14" y2="158.5" stroke="#5a5a5a" stroke-width="0.8"/>
<line x1="332.14" y1="279.2" x2="332.14" y2="281.2" stroke="#5a5a5a" stroke-width="0.8"/>
<line x1="350.52" y1="156.5" x2="350.52" y2="158.5" stroke="#5a5a5a" stroke-width="0.8"/>
<line x1="350.52" y1="279.2" x2="350.52" y2="281.2" stroke="#5a5a5a" stroke-width="0.8"/>
<line x1="368.9" y1="156.5" x2="368.9" y2="158.5" stroke="#5a5a5a" stroke-width="0.8"/>
<line x1="368.9" y1="279.2" x2="368.9" y2="281.2" stroke="#5a5a5a" stroke-width="0.8"/>
<line x1="387.28" y1="156.5" x2="387.28" y2="158.5" stroke="#5a5a5a" stroke-width="0.8"/>
<line x1="387.28" y1="279.2" x2="387.28" y2="281.2" stroke="#5a5a5a" stroke-width="0.8"/>
<line x1="405.66" y1="156.5" x2="405.66" y2="158.5" stroke="#5a5a5a" stroke-width="0.8"/>
<line x1="405.66" y1="279.2" x2="405.66" y2="281.2" stroke="#5a5a5a" stroke-width="0.8"/>
<line x1="424.04" y1="156.5" x2="424.04" y2="158.5" stroke="#5a5a5a" stroke-width="0.8"/>
<line x1="424.04" y1="279.2" x2="424.04" y2="281.2" stroke="#5a5a5a" stroke-width="0.8"/>
<line x1="442.42" y1="156.5" x2="442.42" y2="158.5" stroke="#5a5a5a" stroke-width="0.8"/>
<line x1="442.42" y1="279.2" x2="442.42" y2="281.2" stroke="#5a5a5a" stroke-width="0.8"/>
<line x1="460.8" y1="156.5" x2="460.8" y2="158.5" stroke="#5a5a5a" stroke-width="0.8"/>
<line x1="460.8" y1="279.2" x2="460.8" y2="281.2" stroke="#5a5a5a" stroke-width="0.8"/>
<line x1="275" y1="278.95" x2="277" y2="278.95" stroke="#5a5a5a" stroke-width="0.8"/>
<line x1="460.8" y1="278.95" x2="462" y2="278.95" stroke="#5a5a5a" stroke-width="0.8"/>
<line x1="275" y1="273.5" x2="277" y2="273.5" stroke="#5a5a5a" stroke-width="0.8"/>
<line x1="460.8" y1="273.5" x2="462" y2="273.5" stroke="#5a5a5a" stroke-width="0.8"/>
<line x1="275" y1="268.05" x2="277" y2="268.05" stroke="#5a5a5a" stroke-width="0.8"/>
<line x1="460.8" y1="268.05" x2="462" y2="268.05" stroke="#5a5a5a" stroke-width="0.8"/>
<line x1="275" y1="262.6" x2="277" y2="262.6" stroke="#5a5a5a" stroke-width="0.8"/>
<line x1="460.8" y1="262.6" x2="462" y2="262.6" stroke="#5a5a5a" stroke-width="0.8"/>
<line x1="275" y1="257.15" x2="277" y2="257.15" stroke="#5a5a5a" stroke-width="0.8"/>
<line x1="460.8" y1="257.15" x2="462" y2="257.15" stroke="#5a5a5a" stroke-width="0.8"/>
<line x1="275" y1="251.7" x2="277" y2="251.7" stroke="#5a5a5a" stroke-width="0.8"/>
<line x1="460.8" y1="251.7" x2="462" y2="251.7" stroke="#5a5a5a" stroke-width="0.8"/>
<line x1="275" y1="246.25" x2="277" y2="246.25" stroke="#5a5a5a" stroke-width="0.8"/>
<line x1="460.8" y1="246.25" x2="462" y2="246.25" stroke="#5a5a5a" stroke-width="0.8"/>
<line x1="275" y1="240.8" x2="277" y2="240.8" stroke="#5a5a5a" stroke-width="0.8"/>
<line x1="460.8" y1="240.8" x2="462" y2="240.8" stroke="#5a5a5a" stroke-width="0.8"/>
<line x1="275" y1="235.35" x2="277" y2="235.35" stroke="#5a5a5a" stroke-width="0.8"/>
<line x1="460.8" y1="235.35" x2="462" y2="235.35" stroke="#5a5a5a" stroke-width="0.8"/>
<line x1="275" y1="229.9" x2="277" y2="229.9" stroke="#5a5a5a" stroke-width="0.8"/>
<line x1="460.8" y1="229.9" x2="462" y2="229.9" stroke="#5a5a5a" stroke-width="0.8"/>
<line x1="275" y1="224.45" x2="277" y2="224.45" stroke="#5a5a5a" stroke-width="0.8"/>
<line x1="460.8" y1="224.45" x2="462" y2="224.45" stroke="#5a5a5a" stroke-width="0.8"/>
<line x1="275" y1="219" x2="277" y2="219" stroke="#5a5a5a" stroke-width="0.8"/>
<line x1="460.8" y1="219" x2="462" y2="219" stroke="#5a5a5a" stroke-width="0.8"/>
<line x1="275" y1="213.55" x2="277" y2="213.55" stroke="#5a5a5a" stroke-width="0.8"/>
<line x1="460.8" y1="213.55" x2="462" y2="213.55" stroke="#5a5a5a" stroke-width="0.8"/>
<line x1="275" y1="208.1" x2="277" y2="208.1" stroke="#5a5a5a" stroke-width="0.8"/>
<line x1="460.8" y1="208.1" x2="462" y2="208.1" stroke="#5a5a5a" stroke-width="0.8"/>
<line x1="275" y1="202.65" x2="277" y2="202.65" stroke="#5a5a5a" stroke-width="0.8"/>
<line x1="460.8" y1="202.65" x2="462" y2="202.65" stroke="#5a5a5a" stroke-width="0.8"/>
<line x1="275" y1="197.2" x2="277" y2="197.2" stroke="#5a5a5a" stroke-width="0.8"/>
<line x1="460.8" y1="197.2" x2="462" y2="197.2" stroke="#5a5a5a" stroke-width="0.8"/>
<line x1="275" y1="191.75" x2="277" y2="191.75" stroke="#5a5a5a" stroke-width="0.8"/>
<line x1="460.8" y1="191.75" x2="462" y2="191.75" stroke="#5a5a5a" stroke-width="0.8"/>
<line x1="275" y1="186.3" x2="277" y2="186.3" stroke="#5a5a5a" stroke-width="0.8"/>
<line x1="460.8" y1="186.3" x2="462" y2="186.3" stroke="#5a5a5a" stroke-width="0.8"/>
<line x1="275" y1="180.85" x2="277" y2="180.85" stroke="#5a5a5a" stroke-width="0.8"/>
<line x1="460.8" y1="180.85" x2="462" y2="180.85" stroke="#5a5a5a" stroke-width="0.8"/>
<line x1="275" y1="175.4" x2="277" y2="175.4" stroke="#5a5a5a" stroke-width="0.8"/>
<line x1="460.8" y1="175.4" x2="462" y2="175.4" stroke="#5a5a5a" stroke-width="0.8"/>
<line x1="275" y1="169.95" x2="277" y2="169.95" stroke="#5a5a5a" stroke-width="0.8"/>
<line x1="460.8" y1="169.95" x2="462" y2="169.95" stroke="#5a5a5a" stroke-width="0.8"/>
<line x1="275" y1="164.5" x2="277" y2="164.5" stroke="#5a5a5a" stroke-width="0.8"/>
<line x1="460.8" y1="164.5" x2="462" y2="164.5" stroke="#5a5a5a" stroke-width="0.8"/>
<line x1="275" y1="159.05" x2="277" y2="159.05" stroke="#5a5a5a" stroke-width="0.8"/>
<line x1="460.8" y1="159.05" x2="462" y2="159.05" stroke="#5a5a5a" stroke-width="0.8"/>
<text x="272.2" y="167.8" font-size="9.3" font-family="Liberation Sans" fill="#3a3a3a" text-anchor="end">2</text>
<text x="272.2" y="195.05" font-size="9.3" font-family="Liberation Sans" fill="#3a3a3a" text-anchor="end">1</text>
<text x="272.2" y="222.3" font-size="9.3" font-family="Liberation Sans" fill="#3a3a3a" text-anchor="end">0</text>
<text x="272.2" y="249.55" font-size="9.3" font-family="Liberation Sans" fill="#3a3a3a" text-anchor="end">-1</text>
<text x="272.2" y="276.8" font-size="9.3" font-family="Liberation Sans" fill="#3a3a3a" text-anchor="end">-2</text>
<text x="277" y="292.1" font-size="9" font-family="Liberation Sans" fill="#3a3a3a" text-anchor="middle">1525</text>
<text x="368.9" y="292.1" font-size="9" font-family="Liberation Sans" fill="#3a3a3a" text-anchor="middle">1530</text>
<text x="460.8" y="292.1" font-size="9" font-family="Liberation Sans" fill="#3a3a3a" text-anchor="middle">1535</text>
<text x="368.9" y="303.3" font-size="9.6" font-family="Liberation Sans" fill="#3a3a3a" text-anchor="middle"><tspan font-style="italic" font-weight="bold" font-family="Liberation Serif" font-size="10.5">λ</tspan> [nm]</text>
<text x="255.3" y="212.7" font-size="8.5" font-family="Liberation Sans" fill="#1a1a1a" text-anchor="middle" transform="rotate(-90 255.3 212.7)" stroke="#1a1a1a" stroke-width="0.15"><tspan font-style="italic" font-family="Liberation Serif" font-size="10">D</tspan><tspan font-size="6.5" dy="1.5">int</tspan><tspan dy="-1.5">/2</tspan><tspan font-family="Liberation Serif" font-style="italic" font-size="10">π</tspan> [GHz]</text>
<text x="249.5" y="168.5" font-size="13.5" font-family="Liberation Sans" fill="#000" font-weight="bold">f</text>
<rect x="490.4" y="158.5" width="183.2" height="19.62" fill="#e5e5e5"/>
<rect x="490.4" y="259.88" width="183.2" height="19.32" fill="#e5e5e5"/>
<line x1="490.4" y1="164.5" x2="673.6" y2="164.5" stroke="#000" stroke-width="0.9" stroke-opacity="0.08"/>
<line x1="490.4" y1="191.75" x2="673.6" y2="191.75" stroke="#000" stroke-width="0.9" stroke-opacity="0.08"/>
<line x1="490.4" y1="219" x2="673.6" y2="219" stroke="#000" stroke-width="0.9" stroke-opacity="0.08"/>
<line x1="490.4" y1="246.25" x2="673.6" y2="246.25" stroke="#000" stroke-width="0.9" stroke-opacity="0.08"/>
<line x1="490.4" y1="273.5" x2="673.6" y2="273.5" stroke="#000" stroke-width="0.9" stroke-opacity="0.08"/>
<line x1="582" y1="158.5" x2="582" y2="279.2" stroke="#000" stroke-width="0.9" stroke-opacity="0.1"/>
<circle cx="491.35" cy="236.03" r="0.95" fill="#d63c36"/>
<circle cx="493.2" cy="234.69" r="0.95" fill="#d63c36"/>
<circle cx="495.05" cy="233.5" r="0.95" fill="#d63c36"/>
<circle cx="496.9" cy="236.08" r="0.95" fill="#d63c36"/>
<circle cx="498.75" cy="234.41" r="0.95" fill="#d63c36"/>
<circle cx="500.6" cy="233.53" r="0.95" fill="#d63c36"/>
<circle cx="502.45" cy="234.52" r="0.95" fill="#d63c36"/>
<circle cx="504.3" cy="233.14" r="0.95" fill="#d63c36"/>
<circle cx="506.15" cy="232.68" r="0.95" fill="#d63c36"/>
<circle cx="508" cy="233.63" r="0.95" fill="#d63c36"/>
<circle cx="509.85" cy="232.92" r="0.95" fill="#d63c36"/>
<circle cx="511.7" cy="231.62" r="0.95" fill="#d63c36"/>
<circle cx="513.55" cy="233.16" r="0.95" fill="#d63c36"/>
<circle cx="515.4" cy="231.36" r="0.95" fill="#d63c36"/>
<circle cx="517.25" cy="229.75" r="0.95" fill="#d63c36"/>
<circle cx="519.1" cy="230.96" r="0.95" fill="#d63c36"/>
<circle cx="520.95" cy="230.9" r="0.95" fill="#d63c36"/>
<circle cx="522.8" cy="228.81" r="0.95" fill="#d63c36"/>
<circle cx="524.65" cy="230.9" r="0.95" fill="#d63c36"/>
<circle cx="526.5" cy="229.74" r="0.95" fill="#d63c36"/>
<circle cx="528.35" cy="227.64" r="0.95" fill="#d63c36"/>
<circle cx="530.2" cy="230.15" r="0.95" fill="#d63c36"/>
<circle cx="532.05" cy="227.7" r="0.95" fill="#d63c36"/>
<circle cx="533.9" cy="228.09" r="0.95" fill="#d63c36"/>
<circle cx="535.75" cy="229.25" r="0.95" fill="#d63c36"/>
<circle cx="537.6" cy="227.02" r="0.95" fill="#d63c36"/>
<circle cx="539.45" cy="226.83" r="0.95" fill="#d63c36"/>
<circle cx="541.3" cy="228.04" r="0.95" fill="#d63c36"/>
<circle cx="543.15" cy="225.84" r="0.95" fill="#d63c36"/>
<circle cx="545" cy="225.71" r="0.95" fill="#d63c36"/>
<circle cx="546.85" cy="225.92" r="0.95" fill="#d63c36"/>
<circle cx="548.7" cy="226.23" r="0.95" fill="#d63c36"/>
<circle cx="550.55" cy="224.71" r="0.95" fill="#d63c36"/>
<circle cx="552.4" cy="226.42" r="0.95" fill="#d63c36"/>
<circle cx="554.25" cy="223.63" r="0.95" fill="#d63c36"/>
<circle cx="556.1" cy="222.99" r="0.95" fill="#d63c36"/>
<circle cx="557.95" cy="224.72" r="0.95" fill="#d63c36"/>
<circle cx="559.8" cy="223.57" r="0.95" fill="#d63c36"/>
<circle cx="561.65" cy="221.68" r="0.95" fill="#d63c36"/>
<circle cx="563.5" cy="224.13" r="0.95" fill="#d63c36"/>
<circle cx="565.35" cy="222.93" r="0.95" fill="#d63c36"/>
<circle cx="567.2" cy="220.82" r="0.95" fill="#d63c36"/>
<circle cx="569.05" cy="221.71" r="0.95" fill="#d63c36"/>
<circle cx="570.9" cy="221.52" r="0.95" fill="#d63c36"/>
<circle cx="572.75" cy="219.91" r="0.95" fill="#d63c36"/>
<circle cx="574.6" cy="221.55" r="0.95" fill="#d63c36"/>
<circle cx="576.45" cy="220.1" r="0.95" fill="#d63c36"/>
<circle cx="578.3" cy="218.79" r="0.95" fill="#d63c36"/>
<circle cx="580.15" cy="219.28" r="0.95" fill="#d63c36"/>
<circle cx="582" cy="218.34" r="0.95" fill="#d63c36"/>
<circle cx="583.85" cy="217.78" r="0.95" fill="#d63c36"/>
<circle cx="585.7" cy="219.43" r="0.95" fill="#d63c36"/>
<circle cx="587.55" cy="217.74" r="0.95" fill="#d63c36"/>
<circle cx="589.4" cy="217.16" r="0.95" fill="#d63c36"/>
<circle cx="591.25" cy="217.95" r="0.95" fill="#d63c36"/>
<circle cx="593.1" cy="217.41" r="0.95" fill="#d63c36"/>
<circle cx="594.95" cy="215.85" r="0.95" fill="#d63c36"/>
<circle cx="596.8" cy="216.41" r="0.95" fill="#d63c36"/>
<circle cx="598.65" cy="214.92" r="0.95" fill="#d63c36"/>
<circle cx="600.5" cy="213.63" r="0.95" fill="#d63c36"/>
<circle cx="602.35" cy="214.73" r="0.95" fill="#d63c36"/>
<circle cx="604.2" cy="215.05" r="0.95" fill="#d63c36"/>
<circle cx="606.05" cy="213.91" r="0.95" fill="#d63c36"/>
<circle cx="607.9" cy="214.83" r="0.95" fill="#d63c36"/>
<circle cx="609.75" cy="212.51" r="0.95" fill="#d63c36"/>
<circle cx="611.6" cy="212.33" r="0.95" fill="#d63c36"/>
<circle cx="613.45" cy="212.51" r="0.95" fill="#d63c36"/>
<circle cx="615.3" cy="212.71" r="0.95" fill="#d63c36"/>
<circle cx="617.15" cy="211.12" r="0.95" fill="#d63c36"/>
<circle cx="619" cy="212.42" r="0.95" fill="#d63c36"/>
<circle cx="620.85" cy="210.99" r="0.95" fill="#d63c36"/>
<circle cx="622.7" cy="209.47" r="0.95" fill="#d63c36"/>
<circle cx="624.55" cy="211.38" r="0.95" fill="#d63c36"/>
<circle cx="626.4" cy="210.4" r="0.95" fill="#d63c36"/>
<circle cx="628.25" cy="207.92" r="0.95" fill="#d63c36"/>
<circle cx="630.1" cy="209.4" r="0.95" fill="#d63c36"/>
<circle cx="631.95" cy="208.75" r="0.95" fill="#d63c36"/>
<circle cx="633.8" cy="207.47" r="0.95" fill="#d63c36"/>
<circle cx="635.65" cy="208.1" r="0.95" fill="#d63c36"/>
<circle cx="637.5" cy="206.98" r="0.95" fill="#d63c36"/>
<circle cx="639.35" cy="206.72" r="0.95" fill="#d63c36"/>
<circle cx="641.2" cy="206.59" r="0.95" fill="#d63c36"/>
<circle cx="643.05" cy="205.28" r="0.95" fill="#d63c36"/>
<circle cx="644.9" cy="204.94" r="0.95" fill="#d63c36"/>
<circle cx="646.75" cy="205.32" r="0.95" fill="#d63c36"/>
<circle cx="648.6" cy="205.23" r="0.95" fill="#d63c36"/>
<circle cx="650.45" cy="203" r="0.95" fill="#d63c36"/>
<circle cx="652.3" cy="205.19" r="0.95" fill="#d63c36"/>
<circle cx="654.15" cy="203" r="0.95" fill="#d63c36"/>
<circle cx="656" cy="202.71" r="0.95" fill="#d63c36"/>
<circle cx="657.85" cy="203.57" r="0.95" fill="#d63c36"/>
<circle cx="659.7" cy="202.33" r="0.95" fill="#d63c36"/>
<circle cx="661.55" cy="200.18" r="0.95" fill="#d63c36"/>
<circle cx="663.4" cy="201.19" r="0.95" fill="#d63c36"/>
<circle cx="665.25" cy="199.74" r="0.95" fill="#d63c36"/>
<circle cx="667.1" cy="198.79" r="0.95" fill="#d63c36"/>
<circle cx="668.95" cy="200.76" r="0.95" fill="#d63c36"/>
<circle cx="670.8" cy="198.46" r="0.95" fill="#d63c36"/>
<circle cx="672.65" cy="197.55" r="0.95" fill="#d63c36"/>
<circle cx="500.6" cy="278.59" r="0.95" fill="#e08a2a" fill-opacity="0.45"/>
<circle cx="504.3" cy="275.83" r="0.95" fill="#e08a2a" fill-opacity="0.45"/>
<circle cx="506.15" cy="274.43" r="0.95" fill="#e08a2a" fill-opacity="0.45"/>
<circle cx="508" cy="274.01" r="0.95" fill="#e08a2a" fill-opacity="0.45"/>
<circle cx="509.85" cy="272.33" r="0.95" fill="#e08a2a" fill-opacity="0.45"/>
<circle cx="511.7" cy="270.82" r="0.95" fill="#e08a2a" fill-opacity="0.45"/>
<circle cx="513.55" cy="270.23" r="0.95" fill="#e08a2a" fill-opacity="0.45"/>
<circle cx="515.4" cy="268.49" r="0.95" fill="#e08a2a" fill-opacity="0.45"/>
<circle cx="517.25" cy="267.26" r="0.95" fill="#e08a2a" fill-opacity="0.45"/>
<circle cx="519.1" cy="267.32" r="0.95" fill="#e08a2a" fill-opacity="0.45"/>
<circle cx="520.95" cy="264.68" r="0.95" fill="#e08a2a" fill-opacity="0.45"/>
<circle cx="522.8" cy="263.27" r="0.95" fill="#e08a2a" fill-opacity="0.45"/>
<circle cx="524.65" cy="263.91" r="0.95" fill="#e08a2a" fill-opacity="0.45"/>
<circle cx="526.5" cy="260.38" r="0.95" fill="#e08a2a" fill-opacity="0.45"/>
<circle cx="528.35" cy="259.73" r="0.95" fill="#e08a2a" fill-opacity="0.45"/>
<circle cx="530.2" cy="259.75" r="0.95" fill="#e08a2a"/>
<circle cx="532.05" cy="257.01" r="0.95" fill="#e08a2a"/>
<circle cx="533.9" cy="254.57" r="0.95" fill="#e08a2a"/>
<circle cx="535.75" cy="256.21" r="0.95" fill="#e08a2a"/>
<circle cx="537.6" cy="252.98" r="0.95" fill="#e08a2a"/>
<circle cx="539.45" cy="250.41" r="0.95" fill="#e08a2a"/>
<circle cx="541.3" cy="250.6" r="0.95" fill="#e08a2a"/>
<circle cx="543.15" cy="249.81" r="0.95" fill="#e08a2a"/>
<circle cx="545" cy="247.23" r="0.95" fill="#e08a2a"/>
<circle cx="546.85" cy="247.76" r="0.95" fill="#e08a2a"/>
<circle cx="548.7" cy="245.46" r="0.95" fill="#e08a2a"/>
<circle cx="550.55" cy="242.95" r="0.95" fill="#e08a2a"/>
<circle cx="552.4" cy="243.88" r="0.95" fill="#e08a2a"/>
<circle cx="554.25" cy="240.63" r="0.95" fill="#e08a2a"/>
<circle cx="556.1" cy="238.76" r="0.95" fill="#e08a2a"/>
<circle cx="557.95" cy="239.38" r="0.95" fill="#e08a2a"/>
<circle cx="559.8" cy="236.81" r="0.95" fill="#e08a2a"/>
<circle cx="561.65" cy="235.04" r="0.95" fill="#e08a2a"/>
<circle cx="563.5" cy="234.63" r="0.95" fill="#e08a2a"/>
<circle cx="565.35" cy="232.65" r="0.95" fill="#e08a2a"/>
<circle cx="567.2" cy="229.24" r="0.95" fill="#e08a2a"/>
<circle cx="569.05" cy="229.65" r="0.95" fill="#e08a2a"/>
<circle cx="570.9" cy="227.53" r="0.95" fill="#e08a2a"/>
<circle cx="572.75" cy="224.91" r="0.95" fill="#e08a2a"/>
<circle cx="574.6" cy="225.25" r="0.95" fill="#e08a2a"/>
<circle cx="576.45" cy="222.77" r="0.95" fill="#e08a2a"/>
<circle cx="578.3" cy="220.83" r="0.95" fill="#e08a2a"/>
<circle cx="580.15" cy="221.52" r="0.95" fill="#e08a2a"/>
<circle cx="582" cy="218.76" r="0.95" fill="#e08a2a"/>
<circle cx="583.85" cy="216.49" r="0.95" fill="#e08a2a"/>
<circle cx="585.7" cy="216.23" r="0.95" fill="#e08a2a"/>
<circle cx="587.55" cy="214.04" r="0.95" fill="#e08a2a"/>
<circle cx="589.4" cy="212.95" r="0.95" fill="#e08a2a"/>
<circle cx="591.25" cy="212.44" r="0.95" fill="#e08a2a"/>
<circle cx="593.1" cy="210.06" r="0.95" fill="#e08a2a"/>
<circle cx="594.95" cy="206.95" r="0.95" fill="#e08a2a"/>
<circle cx="596.8" cy="207.95" r="0.95" fill="#e08a2a"/>
<circle cx="598.65" cy="204.6" r="0.95" fill="#e08a2a"/>
<circle cx="600.5" cy="202.65" r="0.95" fill="#e08a2a"/>
<circle cx="602.35" cy="203.72" r="0.95" fill="#e08a2a"/>
<circle cx="604.2" cy="200.75" r="0.95" fill="#e08a2a"/>
<circle cx="606.05" cy="198.24" r="0.95" fill="#e08a2a"/>
<circle cx="607.9" cy="198.42" r="0.95" fill="#e08a2a"/>
<circle cx="609.75" cy="196.34" r="0.95" fill="#e08a2a"/>
<circle cx="611.6" cy="193.85" r="0.95" fill="#e08a2a"/>
<circle cx="613.45" cy="192.8" r="0.95" fill="#e08a2a"/>
<circle cx="615.3" cy="190.06" r="0.95" fill="#e08a2a"/>
<circle cx="617.15" cy="188.17" r="0.95" fill="#e08a2a"/>
<circle cx="619" cy="188" r="0.95" fill="#e08a2a"/>
<circle cx="620.85" cy="185.49" r="0.95" fill="#e08a2a"/>
<circle cx="622.7" cy="184.4" r="0.95" fill="#e08a2a"/>
<circle cx="624.55" cy="184.17" r="0.95" fill="#e08a2a"/>
<circle cx="626.4" cy="180.74" r="0.95" fill="#e08a2a"/>
<circle cx="628.25" cy="178.92" r="0.95" fill="#e08a2a"/>
<circle cx="630.1" cy="178.33" r="0.95" fill="#e08a2a"/>
<circle cx="631.95" cy="176.82" r="0.95" fill="#e08a2a" fill-opacity="0.45"/>
<circle cx="633.8" cy="173.55" r="0.95" fill="#e08a2a" fill-opacity="0.45"/>
<circle cx="635.65" cy="173.06" r="0.95" fill="#e08a2a" fill-opacity="0.45"/>
<circle cx="637.5" cy="170.57" r="0.95" fill="#e08a2a" fill-opacity="0.45"/>
<circle cx="639.35" cy="168.66" r="0.95" fill="#e08a2a" fill-opacity="0.45"/>
<circle cx="641.2" cy="167.96" r="0.95" fill="#e08a2a" fill-opacity="0.45"/>
<circle cx="643.05" cy="166.06" r="0.95" fill="#e08a2a" fill-opacity="0.45"/>
<circle cx="644.9" cy="164.14" r="0.95" fill="#e08a2a" fill-opacity="0.45"/>
<circle cx="646.75" cy="163.06" r="0.95" fill="#e08a2a" fill-opacity="0.45"/>
<circle cx="648.6" cy="160.24" r="0.95" fill="#e08a2a" fill-opacity="0.45"/>
<circle cx="650.45" cy="159.13" r="0.95" fill="#e08a2a" fill-opacity="0.45"/>
<circle cx="533.9" cy="276.63" r="0.95" fill="#22a35e" fill-opacity="0.45"/>
<circle cx="535.75" cy="273.04" r="0.95" fill="#22a35e" fill-opacity="0.45"/>
<circle cx="537.6" cy="273.33" r="0.95" fill="#22a35e" fill-opacity="0.45"/>
<circle cx="539.45" cy="270.45" r="0.95" fill="#22a35e" fill-opacity="0.45"/>
<circle cx="541.3" cy="268.52" r="0.95" fill="#22a35e" fill-opacity="0.45"/>
<circle cx="543.15" cy="267.46" r="0.95" fill="#22a35e" fill-opacity="0.45"/>
<circle cx="545" cy="265" r="0.95" fill="#22a35e" fill-opacity="0.45"/>
<circle cx="546.85" cy="261.57" r="0.95" fill="#22a35e" fill-opacity="0.45"/>
<circle cx="548.7" cy="260.54" r="0.95" fill="#22a35e" fill-opacity="0.45"/>
<circle cx="550.55" cy="258.86" r="0.95" fill="#22a35e"/>
<circle cx="552.4" cy="255.88" r="0.95" fill="#22a35e"/>
<circle cx="554.25" cy="254.46" r="0.95" fill="#22a35e"/>
<circle cx="556.1" cy="251" r="0.95" fill="#22a35e"/>
<circle cx="557.95" cy="248.77" r="0.95" fill="#22a35e"/>
<circle cx="559.8" cy="248.05" r="0.95" fill="#22a35e"/>
<circle cx="561.65" cy="245.53" r="0.95" fill="#22a35e"/>
<circle cx="563.5" cy="242.18" r="0.95" fill="#22a35e"/>
<circle cx="565.35" cy="241.27" r="0.95" fill="#22a35e"/>
<circle cx="567.2" cy="238.32" r="0.95" fill="#22a35e"/>
<circle cx="569.05" cy="234.86" r="0.95" fill="#22a35e"/>
<circle cx="570.9" cy="233.47" r="0.95" fill="#22a35e"/>
<circle cx="572.75" cy="230.35" r="0.95" fill="#22a35e"/>
<circle cx="574.6" cy="228.78" r="0.95" fill="#22a35e"/>
<circle cx="576.45" cy="227.72" r="0.95" fill="#22a35e"/>
<circle cx="578.3" cy="223.55" r="0.95" fill="#22a35e"/>
<circle cx="580.15" cy="221.4" r="0.95" fill="#22a35e"/>
<circle cx="582" cy="219.81" r="0.95" fill="#22a35e"/>
<circle cx="583.85" cy="215.8" r="0.95" fill="#22a35e"/>
<circle cx="585.7" cy="213.87" r="0.95" fill="#22a35e"/>
<circle cx="587.55" cy="212.4" r="0.95" fill="#22a35e"/>
<circle cx="589.4" cy="209.71" r="0.95" fill="#22a35e"/>
<circle cx="591.25" cy="205.91" r="0.95" fill="#22a35e"/>
<circle cx="593.1" cy="203.81" r="0.95" fill="#22a35e"/>
<circle cx="594.95" cy="201.38" r="0.95" fill="#22a35e"/>
<circle cx="596.8" cy="198.28" r="0.95" fill="#22a35e"/>
<circle cx="598.65" cy="197.37" r="0.95" fill="#22a35e"/>
<circle cx="600.5" cy="192.91" r="0.95" fill="#22a35e"/>
<circle cx="602.35" cy="189.8" r="0.95" fill="#22a35e"/>
<circle cx="604.2" cy="188.95" r="0.95" fill="#22a35e"/>
<circle cx="606.05" cy="184.48" r="0.95" fill="#22a35e"/>
<circle cx="607.9" cy="182.19" r="0.95" fill="#22a35e"/>
<circle cx="609.75" cy="180.84" r="0.95" fill="#22a35e"/>
<circle cx="611.6" cy="175.96" r="0.95" fill="#22a35e" fill-opacity="0.45"/>
<circle cx="613.45" cy="173.36" r="0.95" fill="#22a35e" fill-opacity="0.45"/>
<circle cx="615.3" cy="171.67" r="0.95" fill="#22a35e" fill-opacity="0.45"/>
<circle cx="617.15" cy="167.72" r="0.95" fill="#22a35e" fill-opacity="0.45"/>
<circle cx="619" cy="164.83" r="0.95" fill="#22a35e" fill-opacity="0.45"/>
<circle cx="620.85" cy="164.14" r="0.95" fill="#22a35e" fill-opacity="0.45"/>
<circle cx="622.7" cy="159.71" r="0.95" fill="#22a35e" fill-opacity="0.45"/>
<circle cx="550.55" cy="277.05" r="0.95" fill="#2f86c0" fill-opacity="0.45"/>
<circle cx="552.4" cy="275.37" r="0.95" fill="#2f86c0" fill-opacity="0.45"/>
<circle cx="554.25" cy="271.02" r="0.95" fill="#2f86c0" fill-opacity="0.45"/>
<circle cx="556.1" cy="267.11" r="0.95" fill="#2f86c0" fill-opacity="0.45"/>
<circle cx="557.95" cy="265.87" r="0.95" fill="#2f86c0" fill-opacity="0.45"/>
<circle cx="559.8" cy="262.51" r="0.95" fill="#2f86c0" fill-opacity="0.45"/>
<circle cx="561.65" cy="257.75" r="0.95" fill="#2f86c0"/>
<circle cx="563.5" cy="255.25" r="0.95" fill="#2f86c0"/>
<circle cx="565.35" cy="251.03" r="0.95" fill="#2f86c0"/>
<circle cx="567.2" cy="247.27" r="0.95" fill="#2f86c0"/>
<circle cx="569.05" cy="244.62" r="0.95" fill="#2f86c0"/>
<circle cx="570.9" cy="239.86" r="0.95" fill="#2f86c0"/>
<circle cx="572.75" cy="236.91" r="0.95" fill="#2f86c0"/>
<circle cx="574.6" cy="234.47" r="0.95" fill="#2f86c0"/>
<circle cx="576.45" cy="229.19" r="0.95" fill="#2f86c0"/>
<circle cx="578.3" cy="224.73" r="0.95" fill="#2f86c0"/>
<circle cx="580.15" cy="222.69" r="0.95" fill="#2f86c0"/>
<circle cx="582" cy="219.83" r="0.95" fill="#2f86c0"/>
<circle cx="583.85" cy="213.86" r="0.95" fill="#2f86c0"/>
<circle cx="585.7" cy="212.65" r="0.95" fill="#2f86c0"/>
<circle cx="587.55" cy="208.8" r="0.95" fill="#2f86c0"/>
<circle cx="589.4" cy="202.63" r="0.95" fill="#2f86c0"/>
<circle cx="591.25" cy="201.07" r="0.95" fill="#2f86c0"/>
<circle cx="593.1" cy="196.72" r="0.95" fill="#2f86c0"/>
<circle cx="594.95" cy="192.97" r="0.95" fill="#2f86c0"/>
<circle cx="596.8" cy="189.42" r="0.95" fill="#2f86c0"/>
<circle cx="598.65" cy="184.97" r="0.95" fill="#2f86c0"/>
<circle cx="600.5" cy="180.36" r="0.95" fill="#2f86c0"/>
<circle cx="602.35" cy="177.71" r="0.95" fill="#2f86c0"/>
<circle cx="604.2" cy="174.21" r="0.95" fill="#2f86c0" fill-opacity="0.45"/>
<circle cx="606.05" cy="169.83" r="0.95" fill="#2f86c0" fill-opacity="0.45"/>
<circle cx="607.9" cy="166.8" r="0.95" fill="#2f86c0" fill-opacity="0.45"/>
<circle cx="609.75" cy="161.41" r="0.95" fill="#2f86c0" fill-opacity="0.45"/>
<line x1="490.4" y1="158.5" x2="490.4" y2="279.2" stroke="#a6a6a6" stroke-width="1.4"/>
<line x1="673.6" y1="158.5" x2="673.6" y2="279.2" stroke="#a6a6a6" stroke-width="1.4"/>
<line x1="489.7" y1="158.5" x2="674.3" y2="158.5" stroke="#808080" stroke-width="1.6"/>
<line x1="489.7" y1="279.2" x2="674.3" y2="279.2" stroke="#4d4d4d" stroke-width="1"/>
<line x1="490.4" y1="156.5" x2="490.4" y2="158.5" stroke="#5a5a5a" stroke-width="0.8"/>
<line x1="490.4" y1="279.2" x2="490.4" y2="281.2" stroke="#5a5a5a" stroke-width="0.8"/>
<line x1="508.72" y1="156.5" x2="508.72" y2="158.5" stroke="#5a5a5a" stroke-width="0.8"/>
<line x1="508.72" y1="279.2" x2="508.72" y2="281.2" stroke="#5a5a5a" stroke-width="0.8"/>
<line x1="527.04" y1="156.5" x2="527.04" y2="158.5" stroke="#5a5a5a" stroke-width="0.8"/>
<line x1="527.04" y1="279.2" x2="527.04" y2="281.2" stroke="#5a5a5a" stroke-width="0.8"/>
<line x1="545.36" y1="156.5" x2="545.36" y2="158.5" stroke="#5a5a5a" stroke-width="0.8"/>
<line x1="545.36" y1="279.2" x2="545.36" y2="281.2" stroke="#5a5a5a" stroke-width="0.8"/>
<line x1="563.68" y1="156.5" x2="563.68" y2="158.5" stroke="#5a5a5a" stroke-width="0.8"/>
<line x1="563.68" y1="279.2" x2="563.68" y2="281.2" stroke="#5a5a5a" stroke-width="0.8"/>
<line x1="582" y1="156.5" x2="582" y2="158.5" stroke="#5a5a5a" stroke-width="0.8"/>
<line x1="582" y1="279.2" x2="582" y2="281.2" stroke="#5a5a5a" stroke-width="0.8"/>
<line x1="600.32" y1="156.5" x2="600.32" y2="158.5" stroke="#5a5a5a" stroke-width="0.8"/>
<line x1="600.32" y1="279.2" x2="600.32" y2="281.2" stroke="#5a5a5a" stroke-width="0.8"/>
<line x1="618.64" y1="156.5" x2="618.64" y2="158.5" stroke="#5a5a5a" stroke-width="0.8"/>
<line x1="618.64" y1="279.2" x2="618.64" y2="281.2" stroke="#5a5a5a" stroke-width="0.8"/>
<line x1="636.96" y1="156.5" x2="636.96" y2="158.5" stroke="#5a5a5a" stroke-width="0.8"/>
<line x1="636.96" y1="279.2" x2="636.96" y2="281.2" stroke="#5a5a5a" stroke-width="0.8"/>
<line x1="655.28" y1="156.5" x2="655.28" y2="158.5" stroke="#5a5a5a" stroke-width="0.8"/>
<line x1="655.28" y1="279.2" x2="655.28" y2="281.2" stroke="#5a5a5a" stroke-width="0.8"/>
<line x1="673.6" y1="156.5" x2="673.6" y2="158.5" stroke="#5a5a5a" stroke-width="0.8"/>
<line x1="673.6" y1="279.2" x2="673.6" y2="281.2" stroke="#5a5a5a" stroke-width="0.8"/>
<line x1="488.4" y1="278.95" x2="490.4" y2="278.95" stroke="#5a5a5a" stroke-width="0.8"/>
<line x1="673.6" y1="278.95" x2="674.8" y2="278.95" stroke="#5a5a5a" stroke-width="0.8"/>
<line x1="488.4" y1="273.5" x2="490.4" y2="273.5" stroke="#5a5a5a" stroke-width="0.8"/>
<line x1="673.6" y1="273.5" x2="674.8" y2="273.5" stroke="#5a5a5a" stroke-width="0.8"/>
<line x1="488.4" y1="268.05" x2="490.4" y2="268.05" stroke="#5a5a5a" stroke-width="0.8"/>
<line x1="673.6" y1="268.05" x2="674.8" y2="268.05" stroke="#5a5a5a" stroke-width="0.8"/>
<line x1="488.4" y1="262.6" x2="490.4" y2="262.6" stroke="#5a5a5a" stroke-width="0.8"/>
<line x1="673.6" y1="262.6" x2="674.8" y2="262.6" stroke="#5a5a5a" stroke-width="0.8"/>
<line x1="488.4" y1="257.15" x2="490.4" y2="257.15" stroke="#5a5a5a" stroke-width="0.8"/>
<line x1="673.6" y1="257.15" x2="674.8" y2="257.15" stroke="#5a5a5a" stroke-width="0.8"/>
<line x1="488.4" y1="251.7" x2="490.4" y2="251.7" stroke="#5a5a5a" stroke-width="0.8"/>
<line x1="673.6" y1="251.7" x2="674.8" y2="251.7" stroke="#5a5a5a" stroke-width="0.8"/>
<line x1="488.4" y1="246.25" x2="490.4" y2="246.25" stroke="#5a5a5a" stroke-width="0.8"/>
<line x1="673.6" y1="246.25" x2="674.8" y2="246.25" stroke="#5a5a5a" stroke-width="0.8"/>
<line x1="488.4" y1="240.8" x2="490.4" y2="240.8" stroke="#5a5a5a" stroke-width="0.8"/>
<line x1="673.6" y1="240.8" x2="674.8" y2="240.8" stroke="#5a5a5a" stroke-width="0.8"/>
<line x1="488.4" y1="235.35" x2="490.4" y2="235.35" stroke="#5a5a5a" stroke-width="0.8"/>
<line x1="673.6" y1="235.35" x2="674.8" y2="235.35" stroke="#5a5a5a" stroke-width="0.8"/>
<line x1="488.4" y1="229.9" x2="490.4" y2="229.9" stroke="#5a5a5a" stroke-width="0.8"/>
<line x1="673.6" y1="229.9" x2="674.8" y2="229.9" stroke="#5a5a5a" stroke-width="0.8"/>
<line x1="488.4" y1="224.45" x2="490.4" y2="224.45" stroke="#5a5a5a" stroke-width="0.8"/>
<line x1="673.6" y1="224.45" x2="674.8" y2="224.45" stroke="#5a5a5a" stroke-width="0.8"/>
<line x1="488.4" y1="219" x2="490.4" y2="219" stroke="#5a5a5a" stroke-width="0.8"/>
<line x1="673.6" y1="219" x2="674.8" y2="219" stroke="#5a5a5a" stroke-width="0.8"/>
<line x1="488.4" y1="213.55" x2="490.4" y2="213.55" stroke="#5a5a5a" stroke-width="0.8"/>
<line x1="673.6" y1="213.55" x2="674.8" y2="213.55" stroke="#5a5a5a" stroke-width="0.8"/>
<line x1="488.4" y1="208.1" x2="490.4" y2="208.1" stroke="#5a5a5a" stroke-width="0.8"/>
<line x1="673.6" y1="208.1" x2="674.8" y2="208.1" stroke="#5a5a5a" stroke-width="0.8"/>
<line x1="488.4" y1="202.65" x2="490.4" y2="202.65" stroke="#5a5a5a" stroke-width="0.8"/>
<line x1="673.6" y1="202.65" x2="674.8" y2="202.65" stroke="#5a5a5a" stroke-width="0.8"/>
<line x1="488.4" y1="197.2" x2="490.4" y2="197.2" stroke="#5a5a5a" stroke-width="0.8"/>
<line x1="673.6" y1="197.2" x2="674.8" y2="197.2" stroke="#5a5a5a" stroke-width="0.8"/>
<line x1="488.4" y1="191.75" x2="490.4" y2="191.75" stroke="#5a5a5a" stroke-width="0.8"/>
<line x1="673.6" y1="191.75" x2="674.8" y2="191.75" stroke="#5a5a5a" stroke-width="0.8"/>
<line x1="488.4" y1="186.3" x2="490.4" y2="186.3" stroke="#5a5a5a" stroke-width="0.8"/>
<line x1="673.6" y1="186.3" x2="674.8" y2="186.3" stroke="#5a5a5a" stroke-width="0.8"/>
<line x1="488.4" y1="180.85" x2="490.4" y2="180.85" stroke="#5a5a5a" stroke-width="0.8"/>
<line x1="673.6" y1="180.85" x2="674.8" y2="180.85" stroke="#5a5a5a" stroke-width="0.8"/>
<line x1="488.4" y1="175.4" x2="490.4" y2="175.4" stroke="#5a5a5a" stroke-width="0.8"/>
<line x1="673.6" y1="175.4" x2="674.8" y2="175.4" stroke="#5a5a5a" stroke-width="0.8"/>
<line x1="488.4" y1="169.95" x2="490.4" y2="169.95" stroke="#5a5a5a" stroke-width="0.8"/>
<line x1="673.6" y1="169.95" x2="674.8" y2="169.95" stroke="#5a5a5a" stroke-width="0.8"/>
<line x1="488.4" y1="164.5" x2="490.4" y2="164.5" stroke="#5a5a5a" stroke-width="0.8"/>
<line x1="673.6" y1="164.5" x2="674.8" y2="164.5" stroke="#5a5a5a" stroke-width="0.8"/>
<line x1="488.4" y1="159.05" x2="490.4" y2="159.05" stroke="#5a5a5a" stroke-width="0.8"/>
<line x1="673.6" y1="159.05" x2="674.8" y2="159.05" stroke="#5a5a5a" stroke-width="0.8"/>
<text x="485.6" y="167.8" font-size="9.3" font-family="Liberation Sans" fill="#3a3a3a" text-anchor="end">2</text>
<text x="485.6" y="195.05" font-size="9.3" font-family="Liberation Sans" fill="#3a3a3a" text-anchor="end">1</text>
<text x="485.6" y="222.3" font-size="9.3" font-family="Liberation Sans" fill="#3a3a3a" text-anchor="end">0</text>
<text x="485.6" y="249.55" font-size="9.3" font-family="Liberation Sans" fill="#3a3a3a" text-anchor="end">-1</text>
<text x="485.6" y="276.8" font-size="9.3" font-family="Liberation Sans" fill="#3a3a3a" text-anchor="end">-2</text>
<text x="490.4" y="292.1" font-size="9" font-family="Liberation Sans" fill="#3a3a3a" text-anchor="middle">1545</text>
<text x="582" y="292.1" font-size="9" font-family="Liberation Sans" fill="#3a3a3a" text-anchor="middle">1550</text>
<text x="673.6" y="292.1" font-size="9" font-family="Liberation Sans" fill="#3a3a3a" text-anchor="middle">1555</text>
<text x="582" y="303.3" font-size="9.6" font-family="Liberation Sans" fill="#3a3a3a" text-anchor="middle"><tspan font-style="italic" font-weight="bold" font-family="Liberation Serif" font-size="10.5">λ</tspan> [nm]</text>
<text x="465" y="166.5" font-size="13.5" font-family="Liberation Serif" fill="#000" font-weight="bold">g</text>
<line x1="286.6" y1="83" x2="286.6" y2="259.5" stroke="#e08a2a" stroke-width="1" stroke-dasharray="2.4 1.5"/>
<line x1="458.5" y1="80" x2="458.5" y2="179" stroke="#e08a2a" stroke-width="1" stroke-dasharray="2.4 1.5"/>
<line x1="333" y1="99.5" x2="333" y2="257.5" stroke="#22a35e" stroke-width="1" stroke-dasharray="2.4 1.5"/>
<line x1="407" y1="101" x2="407" y2="177.5" stroke="#22a35e" stroke-width="1" stroke-dasharray="2.4 1.5"/>
<line x1="344.9" y1="106.5" x2="344.9" y2="261.5" stroke="#2f86c0" stroke-width="1" stroke-dasharray="2.4 1.5"/>
<line x1="392.6" y1="106.5" x2="392.6" y2="176.5" stroke="#2f86c0" stroke-width="1" stroke-dasharray="2.4 1.5"/>
<line x1="528.5" y1="79.5" x2="528.5" y2="258.5" stroke="#e08a2a" stroke-width="1" stroke-dasharray="2.4 1.5"/>
<line x1="630.6" y1="79.5" x2="630.6" y2="178.5" stroke="#e08a2a" stroke-width="1" stroke-dasharray="2.4 1.5"/>
<line x1="549.6" y1="87.6" x2="549.6" y2="258" stroke="#22a35e" stroke-width="1" stroke-dasharray="2.4 1.5"/>
<line x1="611.4" y1="87.6" x2="611.4" y2="177" stroke="#22a35e" stroke-width="1" stroke-dasharray="2.4 1.5"/>
<line x1="561.3" y1="112" x2="561.3" y2="260" stroke="#2f86c0" stroke-width="1" stroke-dasharray="2.4 1.5"/>
<line x1="602.9" y1="112" x2="602.9" y2="177" stroke="#2f86c0" stroke-width="1" stroke-dasharray="2.4 1.5"/></svg>
</body></html>
